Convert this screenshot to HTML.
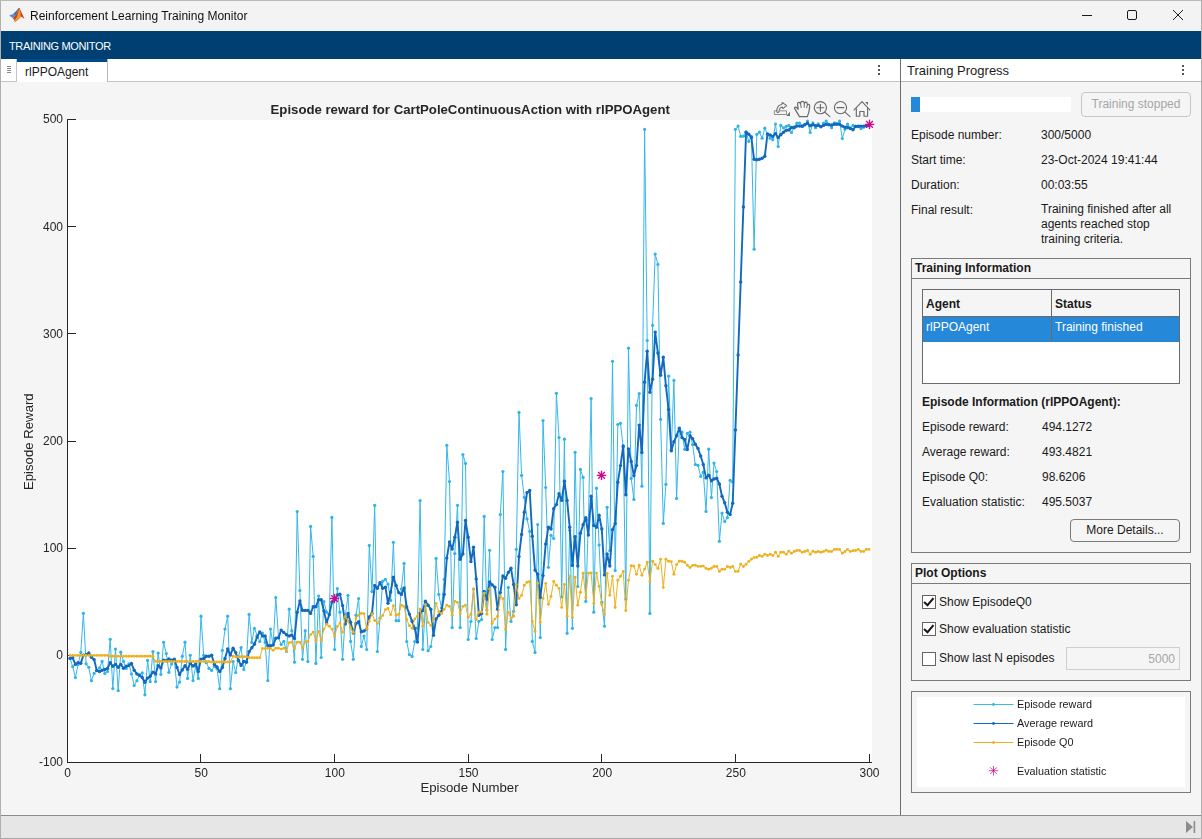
<!DOCTYPE html>
<html><head><meta charset="utf-8"><title>Reinforcement Learning Training Monitor</title>
<style>
*{box-sizing:border-box;margin:0;padding:0}
html,body{width:1202px;height:839px;overflow:hidden;background:#f5f5f5}
body{position:relative;font-family:"Liberation Sans",sans-serif;font-size:12px;color:#1a1a1a}
.abs{position:absolute}
.t{position:absolute;white-space:nowrap;line-height:14px}
.b{font-weight:bold}
.panel{position:absolute;left:911px;width:280px;border:1px solid #7a7a7a}
.ptitle{position:absolute;left:0;top:0;right:0;border-bottom:1px solid #7a7a7a;height:20px}
.cb{position:absolute;left:922px;width:14px;height:14px;border:1px solid #646464;background:#fff}
</style></head><body>
<!-- window frame -->
<div class="abs" style="left:0;top:0;width:1202px;height:1px;background:#b9b9b9"></div>
<div class="abs" style="left:0;top:1px;width:1202px;height:30px;background:#f3f3f3"></div>
<div class="abs" style="left:0;top:31px;width:1202px;height:28px;background:#003f72"></div>
<div class="abs" style="left:0;top:59px;width:1202px;height:23px;background:#fff"></div>
<!-- title bar -->
<svg class="abs" style="left:8px;top:6px" width="18" height="18" viewBox="0 0 18 18">
<polygon points="1.2,9.6 5.2,8.0 7.2,9.4 5.0,12.2" fill="#4a90d9"/>
<polygon points="5.2,8.0 8.6,4.4 10.6,2.0 9.2,6.6 7.2,9.4" fill="#3a6fb5"/>
<polygon points="5.0,12.2 7.2,9.4 9.2,6.6 10.6,2.0 11.6,2.0 13.0,5.6 16.6,13.0 14.6,11.4 13.0,10.6 10.4,13.2 7.2,16.0 6.2,14.2" fill="#c43d1a"/>
<polygon points="7.2,16.0 6.2,14.2 8.6,11.4 10.6,5.0 11.6,2.2 12.4,6.4 12.8,10.6 10.4,13.2" fill="#f0962e"/>
</svg>
<div class="t" style="left:30px;top:8px;font-size:12px;color:#111;line-height:16px;will-change:transform" id="wtitle">Reinforcement Learning Training Monitor</div>
<svg class="abs" style="left:1076px;top:5px" width="116" height="22" viewBox="1076 5 116 22" fill="none" stroke="#1a1a1a" stroke-width="1">
<line x1="1082" y1="15.5" x2="1092" y2="15.5"/>
<rect x="1127.5" y="10.5" width="9" height="9" rx="1.5"/>
<path d="M1173 10 L1183 20 M1183 10 L1173 20"/>
</svg>
<!-- toolstrip -->
<div class="t" style="left:9px;top:38.8px;font-size:11px;letter-spacing:-0.35px;color:#ffffff;line-height:15px" id="tstrip">TRAINING MONITOR</div>
<!-- tab strip -->
<div class="abs" style="left:1px;top:59px;width:16px;height:23px;background:#fff;border-right:1px solid #c4c4c4;border-bottom:1px solid #c4c4c4"></div>
<div class="abs" style="left:7px;top:66px;width:4px;height:1px;background:#8a8a8a;box-shadow:0 2px 0 #8a8a8a,0 4px 0 #8a8a8a,0 6px 0 #8a8a8a"></div>
<div class="abs" style="left:17px;top:59px;width:90px;height:3px;background:#00498a"></div>
<div class="t" style="left:25px;top:64.5px;font-size:12px;color:#1a1a1a;line-height:15px" id="tabtxt">rlPPOAgent</div>
<div class="abs" style="left:107px;top:59px;width:793px;height:23px;border-left:1px solid #b9b9b9;border-bottom:1px solid #c4c4c4"></div>
<div class="abs" style="left:878px;top:65px;width:2px;height:2px;background:#555;box-shadow:0 4px 0 #555,0 8px 0 #555"></div>
<div class="abs" style="left:901px;top:59px;width:301px;height:23px;border-bottom:1px solid #b9b9b9"></div>
<div class="t" style="left:907px;top:63px;font-size:13px;color:#1a1a1a;line-height:16px" id="tprog">Training Progress</div>
<div class="abs" style="left:1182px;top:65px;width:2px;height:2px;background:#555;box-shadow:0 4px 0 #555,0 8px 0 #555"></div>
<!-- divider -->
<div class="abs" style="left:900px;top:59px;width:1px;height:756px;background:#6e6e6e"></div>
<svg id="chart" width="901" height="757" viewBox="0 82 901 757" style="position:absolute;left:0;top:82px;will-change:transform"><rect x="68" y="120" width="804" height="642" fill="#fff"/><g stroke="#262626" stroke-width="1" fill="none" shape-rendering="crispEdges"><line x1="67.5" y1="119" x2="67.5" y2="762.5"/><line x1="67" y1="762.5" x2="872" y2="762.5"/><line x1="67" y1="119.5" x2="76" y2="119.5"/><line x1="67" y1="226.5" x2="76" y2="226.5"/><line x1="67" y1="333.5" x2="76" y2="333.5"/><line x1="67" y1="441.5" x2="76" y2="441.5"/><line x1="67" y1="548.5" x2="76" y2="548.5"/><line x1="67" y1="655.5" x2="76" y2="655.5"/><line x1="67" y1="762.5" x2="76" y2="762.5"/><line x1="200.5" y1="762" x2="200.5" y2="754"/><line x1="334.5" y1="762" x2="334.5" y2="754"/><line x1="468.5" y1="762" x2="468.5" y2="754"/><line x1="601.5" y1="762" x2="601.5" y2="754"/><line x1="735.5" y1="762" x2="735.5" y2="754"/><line x1="869.5" y1="762" x2="869.5" y2="754"/></g><polyline fill="none" stroke="#35b7ea" stroke-width="1.0" stroke-linejoin="round" points="70.1,658.4 72.7,666.7 75.4,677.5 78.1,664.4 80.8,652.4 83.4,613.3 86.1,663.8 88.8,667.3 91.4,680.7 94.1,673.3 96.8,670.3 99.5,667.9 102.1,661.4 104.8,673.5 107.5,671.5 110.2,639.3 112.8,688.6 115.5,649.1 118.2,690.6 120.8,652.2 123.5,661.4 126.2,668.5 128.9,663.8 131.5,673.9 134.2,685.5 136.9,680.7 139.5,675.1 142.2,672.9 144.9,694.8 147.6,660.4 150.2,681.6 152.9,651.5 155.6,681.6 158.2,653.0 160.9,674.5 163.6,642.3 166.3,653.6 168.9,672.3 171.6,663.9 174.3,660.3 177.0,687.1 179.6,682.1 182.3,656.2 185.0,642.2 187.6,678.4 190.3,655.3 193.0,680.6 195.7,666.3 198.3,678.4 201.0,616.2 203.7,655.3 206.3,662.7 209.0,668.3 211.7,670.5 214.4,666.3 217.0,668.7 219.7,688.7 222.4,650.4 225.0,629.1 227.7,616.2 230.4,688.7 233.1,661.5 235.7,672.5 238.4,656.7 241.1,647.6 243.8,669.5 246.4,661.5 249.1,614.4 251.8,642.4 254.4,628.4 257.1,635.3 259.8,641.5 262.5,633.1 265.1,642.4 267.8,680.6 270.5,629.1 273.1,644.8 275.8,597.5 278.5,637.7 281.2,644.4 283.8,641.4 286.5,651.5 289.2,609.2 291.8,630.7 294.5,662.2 297.2,511.5 299.9,590.5 302.5,659.3 305.2,630.7 307.9,661.6 310.6,526.4 313.2,556.4 315.9,663.4 318.6,596.1 321.2,657.5 323.9,601.5 326.6,612.2 329.3,614.6 331.9,517.4 334.6,649.5 337.3,588.6 339.9,612.2 342.6,659.3 345.3,615.8 348.0,595.3 350.6,641.4 353.3,659.3 356.0,615.2 358.6,598.5 361.3,646.4 364.0,636.0 366.7,649.5 369.3,545.4 372.0,591.6 374.7,505.3 377.4,651.5 380.0,618.1 382.7,581.2 385.4,579.4 388.0,584.2 390.7,600.4 393.4,542.3 396.1,620.7 398.7,620.7 401.4,589.1 404.1,563.4 406.7,641.5 409.4,654.6 412.1,656.4 414.8,641.5 417.4,628.0 420.1,500.5 422.8,649.5 425.4,605.8 428.1,650.7 430.8,646.5 433.5,629.6 436.1,558.4 438.8,594.4 441.5,608.0 444.2,579.3 446.8,445.3 449.5,481.5 452.2,627.6 454.8,553.5 457.5,505.3 460.2,627.6 462.9,454.5 465.5,463.4 468.2,639.5 470.9,621.5 473.5,589.0 476.2,638.5 478.9,621.3 481.6,619.5 484.2,516.4 486.9,610.0 489.6,550.3 492.2,639.5 494.9,627.6 497.6,627.6 500.3,514.6 502.9,471.5 505.6,649.4 508.3,587.4 511.0,621.4 513.6,611.3 516.3,549.3 519.0,412.4 521.6,475.4 524.3,497.4 527.0,518.9 529.7,531.4 532.3,641.4 535.0,652.4 537.7,524.5 540.3,637.5 543.0,420.5 545.7,487.5 548.4,567.3 551.0,535.3 553.7,538.5 556.4,393.3 559.0,437.6 561.7,597.0 564.4,439.2 567.1,633.3 569.7,530.3 572.4,628.3 575.1,452.3 577.8,586.5 580.4,469.4 583.1,477.4 585.8,601.4 588.4,520.0 591.1,398.5 593.8,612.2 596.5,488.2 599.1,545.1 601.8,602.3 604.5,626.2 607.1,507.3 609.8,550.7 612.5,361.3 615.2,570.5 617.8,424.5 620.5,423.3 623.2,447.0 625.8,599.1 628.5,348.2 631.2,478.4 633.9,499.4 636.5,405.4 639.2,393.5 641.9,486.2 644.6,129.3 647.2,340.5 649.9,613.4 652.6,325.3 655.2,254.1 657.9,264.4 660.6,419.4 663.3,523.4 665.9,484.3 668.6,376.2 671.3,450.0 673.9,380.4 676.6,498.4 679.3,428.5 682.0,432.2 684.6,449.3 687.3,433.4 690.0,432.2 692.6,444.5 695.3,464.5 698.0,465.3 700.7,476.4 703.3,472.2 706.0,511.5 708.7,449.2 711.4,497.6 714.0,463.1 716.7,471.5 719.4,541.3 722.0,513.1 724.7,521.5 727.4,517.6 730.1,480.3 732.7,482.0 735.4,129.3 738.1,126.1 740.7,136.4 743.4,136.2 746.1,132.2 748.8,141.4 751.4,136.4 754.1,249.2 756.8,134.3 759.4,132.2 762.1,138.2 764.8,128.2 767.5,134.3 770.1,138.2 772.8,139.7 775.5,124.1 778.2,146.5 780.8,125.4 783.5,127.9 786.2,126.4 788.8,125.4 791.5,132.5 794.2,126.8 796.9,123.2 799.5,123.2 802.2,125.7 804.9,124.3 807.5,121.1 810.2,132.5 812.9,122.9 815.6,127.7 818.2,123.9 820.9,126.4 823.6,123.2 826.2,121.1 828.9,124.3 831.6,127.7 834.3,122.9 836.9,123.6 839.6,121.1 842.3,138.5 845.0,129.3 847.6,124.2 850.3,127.9 853.0,125.4 855.6,126.4 858.3,126.4 861.0,128.6 863.7,127.2 866.3,125.7 869.0,125.0"/><circle cx="70.1" cy="658.4" r="1.6" fill="#2fb4e9"/><circle cx="72.7" cy="666.7" r="1.6" fill="#2fb4e9"/><circle cx="75.4" cy="677.5" r="1.6" fill="#2fb4e9"/><circle cx="78.1" cy="664.4" r="1.6" fill="#2fb4e9"/><circle cx="80.8" cy="652.4" r="1.6" fill="#2fb4e9"/><circle cx="83.4" cy="613.3" r="1.6" fill="#2fb4e9"/><circle cx="86.1" cy="663.8" r="1.6" fill="#2fb4e9"/><circle cx="88.8" cy="667.3" r="1.6" fill="#2fb4e9"/><circle cx="91.4" cy="680.7" r="1.6" fill="#2fb4e9"/><circle cx="94.1" cy="673.3" r="1.6" fill="#2fb4e9"/><circle cx="96.8" cy="670.3" r="1.6" fill="#2fb4e9"/><circle cx="99.5" cy="667.9" r="1.6" fill="#2fb4e9"/><circle cx="102.1" cy="661.4" r="1.6" fill="#2fb4e9"/><circle cx="104.8" cy="673.5" r="1.6" fill="#2fb4e9"/><circle cx="107.5" cy="671.5" r="1.6" fill="#2fb4e9"/><circle cx="110.2" cy="639.3" r="1.6" fill="#2fb4e9"/><circle cx="112.8" cy="688.6" r="1.6" fill="#2fb4e9"/><circle cx="115.5" cy="649.1" r="1.6" fill="#2fb4e9"/><circle cx="118.2" cy="690.6" r="1.6" fill="#2fb4e9"/><circle cx="120.8" cy="652.2" r="1.6" fill="#2fb4e9"/><circle cx="123.5" cy="661.4" r="1.6" fill="#2fb4e9"/><circle cx="126.2" cy="668.5" r="1.6" fill="#2fb4e9"/><circle cx="128.9" cy="663.8" r="1.6" fill="#2fb4e9"/><circle cx="131.5" cy="673.9" r="1.6" fill="#2fb4e9"/><circle cx="134.2" cy="685.5" r="1.6" fill="#2fb4e9"/><circle cx="136.9" cy="680.7" r="1.6" fill="#2fb4e9"/><circle cx="139.5" cy="675.1" r="1.6" fill="#2fb4e9"/><circle cx="142.2" cy="672.9" r="1.6" fill="#2fb4e9"/><circle cx="144.9" cy="694.8" r="1.6" fill="#2fb4e9"/><circle cx="147.6" cy="660.4" r="1.6" fill="#2fb4e9"/><circle cx="150.2" cy="681.6" r="1.6" fill="#2fb4e9"/><circle cx="152.9" cy="651.5" r="1.6" fill="#2fb4e9"/><circle cx="155.6" cy="681.6" r="1.6" fill="#2fb4e9"/><circle cx="158.2" cy="653.0" r="1.6" fill="#2fb4e9"/><circle cx="160.9" cy="674.5" r="1.6" fill="#2fb4e9"/><circle cx="163.6" cy="642.3" r="1.6" fill="#2fb4e9"/><circle cx="166.3" cy="653.6" r="1.6" fill="#2fb4e9"/><circle cx="168.9" cy="672.3" r="1.6" fill="#2fb4e9"/><circle cx="171.6" cy="663.9" r="1.6" fill="#2fb4e9"/><circle cx="174.3" cy="660.3" r="1.6" fill="#2fb4e9"/><circle cx="177.0" cy="687.1" r="1.6" fill="#2fb4e9"/><circle cx="179.6" cy="682.1" r="1.6" fill="#2fb4e9"/><circle cx="182.3" cy="656.2" r="1.6" fill="#2fb4e9"/><circle cx="185.0" cy="642.2" r="1.6" fill="#2fb4e9"/><circle cx="187.6" cy="678.4" r="1.6" fill="#2fb4e9"/><circle cx="190.3" cy="655.3" r="1.6" fill="#2fb4e9"/><circle cx="193.0" cy="680.6" r="1.6" fill="#2fb4e9"/><circle cx="195.7" cy="666.3" r="1.6" fill="#2fb4e9"/><circle cx="198.3" cy="678.4" r="1.6" fill="#2fb4e9"/><circle cx="201.0" cy="616.2" r="1.6" fill="#2fb4e9"/><circle cx="203.7" cy="655.3" r="1.6" fill="#2fb4e9"/><circle cx="206.3" cy="662.7" r="1.6" fill="#2fb4e9"/><circle cx="209.0" cy="668.3" r="1.6" fill="#2fb4e9"/><circle cx="211.7" cy="670.5" r="1.6" fill="#2fb4e9"/><circle cx="214.4" cy="666.3" r="1.6" fill="#2fb4e9"/><circle cx="217.0" cy="668.7" r="1.6" fill="#2fb4e9"/><circle cx="219.7" cy="688.7" r="1.6" fill="#2fb4e9"/><circle cx="222.4" cy="650.4" r="1.6" fill="#2fb4e9"/><circle cx="225.0" cy="629.1" r="1.6" fill="#2fb4e9"/><circle cx="227.7" cy="616.2" r="1.6" fill="#2fb4e9"/><circle cx="230.4" cy="688.7" r="1.6" fill="#2fb4e9"/><circle cx="233.1" cy="661.5" r="1.6" fill="#2fb4e9"/><circle cx="235.7" cy="672.5" r="1.6" fill="#2fb4e9"/><circle cx="238.4" cy="656.7" r="1.6" fill="#2fb4e9"/><circle cx="241.1" cy="647.6" r="1.6" fill="#2fb4e9"/><circle cx="243.8" cy="669.5" r="1.6" fill="#2fb4e9"/><circle cx="246.4" cy="661.5" r="1.6" fill="#2fb4e9"/><circle cx="249.1" cy="614.4" r="1.6" fill="#2fb4e9"/><circle cx="251.8" cy="642.4" r="1.6" fill="#2fb4e9"/><circle cx="254.4" cy="628.4" r="1.6" fill="#2fb4e9"/><circle cx="257.1" cy="635.3" r="1.6" fill="#2fb4e9"/><circle cx="259.8" cy="641.5" r="1.6" fill="#2fb4e9"/><circle cx="262.5" cy="633.1" r="1.6" fill="#2fb4e9"/><circle cx="265.1" cy="642.4" r="1.6" fill="#2fb4e9"/><circle cx="267.8" cy="680.6" r="1.6" fill="#2fb4e9"/><circle cx="270.5" cy="629.1" r="1.6" fill="#2fb4e9"/><circle cx="273.1" cy="644.8" r="1.6" fill="#2fb4e9"/><circle cx="275.8" cy="597.5" r="1.6" fill="#2fb4e9"/><circle cx="278.5" cy="637.7" r="1.6" fill="#2fb4e9"/><circle cx="281.2" cy="644.4" r="1.6" fill="#2fb4e9"/><circle cx="283.8" cy="641.4" r="1.6" fill="#2fb4e9"/><circle cx="286.5" cy="651.5" r="1.6" fill="#2fb4e9"/><circle cx="289.2" cy="609.2" r="1.6" fill="#2fb4e9"/><circle cx="291.8" cy="630.7" r="1.6" fill="#2fb4e9"/><circle cx="294.5" cy="662.2" r="1.6" fill="#2fb4e9"/><circle cx="297.2" cy="511.5" r="1.6" fill="#2fb4e9"/><circle cx="299.9" cy="590.5" r="1.6" fill="#2fb4e9"/><circle cx="302.5" cy="659.3" r="1.6" fill="#2fb4e9"/><circle cx="305.2" cy="630.7" r="1.6" fill="#2fb4e9"/><circle cx="307.9" cy="661.6" r="1.6" fill="#2fb4e9"/><circle cx="310.6" cy="526.4" r="1.6" fill="#2fb4e9"/><circle cx="313.2" cy="556.4" r="1.6" fill="#2fb4e9"/><circle cx="315.9" cy="663.4" r="1.6" fill="#2fb4e9"/><circle cx="318.6" cy="596.1" r="1.6" fill="#2fb4e9"/><circle cx="321.2" cy="657.5" r="1.6" fill="#2fb4e9"/><circle cx="323.9" cy="601.5" r="1.6" fill="#2fb4e9"/><circle cx="326.6" cy="612.2" r="1.6" fill="#2fb4e9"/><circle cx="329.3" cy="614.6" r="1.6" fill="#2fb4e9"/><circle cx="331.9" cy="517.4" r="1.6" fill="#2fb4e9"/><circle cx="334.6" cy="649.5" r="1.6" fill="#2fb4e9"/><circle cx="337.3" cy="588.6" r="1.6" fill="#2fb4e9"/><circle cx="339.9" cy="612.2" r="1.6" fill="#2fb4e9"/><circle cx="342.6" cy="659.3" r="1.6" fill="#2fb4e9"/><circle cx="345.3" cy="615.8" r="1.6" fill="#2fb4e9"/><circle cx="348.0" cy="595.3" r="1.6" fill="#2fb4e9"/><circle cx="350.6" cy="641.4" r="1.6" fill="#2fb4e9"/><circle cx="353.3" cy="659.3" r="1.6" fill="#2fb4e9"/><circle cx="356.0" cy="615.2" r="1.6" fill="#2fb4e9"/><circle cx="358.6" cy="598.5" r="1.6" fill="#2fb4e9"/><circle cx="361.3" cy="646.4" r="1.6" fill="#2fb4e9"/><circle cx="364.0" cy="636.0" r="1.6" fill="#2fb4e9"/><circle cx="366.7" cy="649.5" r="1.6" fill="#2fb4e9"/><circle cx="369.3" cy="545.4" r="1.6" fill="#2fb4e9"/><circle cx="372.0" cy="591.6" r="1.6" fill="#2fb4e9"/><circle cx="374.7" cy="505.3" r="1.6" fill="#2fb4e9"/><circle cx="377.4" cy="651.5" r="1.6" fill="#2fb4e9"/><circle cx="380.0" cy="618.1" r="1.6" fill="#2fb4e9"/><circle cx="382.7" cy="581.2" r="1.6" fill="#2fb4e9"/><circle cx="385.4" cy="579.4" r="1.6" fill="#2fb4e9"/><circle cx="388.0" cy="584.2" r="1.6" fill="#2fb4e9"/><circle cx="390.7" cy="600.4" r="1.6" fill="#2fb4e9"/><circle cx="393.4" cy="542.3" r="1.6" fill="#2fb4e9"/><circle cx="396.1" cy="620.7" r="1.6" fill="#2fb4e9"/><circle cx="398.7" cy="620.7" r="1.6" fill="#2fb4e9"/><circle cx="401.4" cy="589.1" r="1.6" fill="#2fb4e9"/><circle cx="404.1" cy="563.4" r="1.6" fill="#2fb4e9"/><circle cx="406.7" cy="641.5" r="1.6" fill="#2fb4e9"/><circle cx="409.4" cy="654.6" r="1.6" fill="#2fb4e9"/><circle cx="412.1" cy="656.4" r="1.6" fill="#2fb4e9"/><circle cx="414.8" cy="641.5" r="1.6" fill="#2fb4e9"/><circle cx="417.4" cy="628.0" r="1.6" fill="#2fb4e9"/><circle cx="420.1" cy="500.5" r="1.6" fill="#2fb4e9"/><circle cx="422.8" cy="649.5" r="1.6" fill="#2fb4e9"/><circle cx="425.4" cy="605.8" r="1.6" fill="#2fb4e9"/><circle cx="428.1" cy="650.7" r="1.6" fill="#2fb4e9"/><circle cx="430.8" cy="646.5" r="1.6" fill="#2fb4e9"/><circle cx="433.5" cy="629.6" r="1.6" fill="#2fb4e9"/><circle cx="436.1" cy="558.4" r="1.6" fill="#2fb4e9"/><circle cx="438.8" cy="594.4" r="1.6" fill="#2fb4e9"/><circle cx="441.5" cy="608.0" r="1.6" fill="#2fb4e9"/><circle cx="444.2" cy="579.3" r="1.6" fill="#2fb4e9"/><circle cx="446.8" cy="445.3" r="1.6" fill="#2fb4e9"/><circle cx="449.5" cy="481.5" r="1.6" fill="#2fb4e9"/><circle cx="452.2" cy="627.6" r="1.6" fill="#2fb4e9"/><circle cx="454.8" cy="553.5" r="1.6" fill="#2fb4e9"/><circle cx="457.5" cy="505.3" r="1.6" fill="#2fb4e9"/><circle cx="460.2" cy="627.6" r="1.6" fill="#2fb4e9"/><circle cx="462.9" cy="454.5" r="1.6" fill="#2fb4e9"/><circle cx="465.5" cy="463.4" r="1.6" fill="#2fb4e9"/><circle cx="468.2" cy="639.5" r="1.6" fill="#2fb4e9"/><circle cx="470.9" cy="621.5" r="1.6" fill="#2fb4e9"/><circle cx="473.5" cy="589.0" r="1.6" fill="#2fb4e9"/><circle cx="476.2" cy="638.5" r="1.6" fill="#2fb4e9"/><circle cx="478.9" cy="621.3" r="1.6" fill="#2fb4e9"/><circle cx="481.6" cy="619.5" r="1.6" fill="#2fb4e9"/><circle cx="484.2" cy="516.4" r="1.6" fill="#2fb4e9"/><circle cx="486.9" cy="610.0" r="1.6" fill="#2fb4e9"/><circle cx="489.6" cy="550.3" r="1.6" fill="#2fb4e9"/><circle cx="492.2" cy="639.5" r="1.6" fill="#2fb4e9"/><circle cx="494.9" cy="627.6" r="1.6" fill="#2fb4e9"/><circle cx="497.6" cy="627.6" r="1.6" fill="#2fb4e9"/><circle cx="500.3" cy="514.6" r="1.6" fill="#2fb4e9"/><circle cx="502.9" cy="471.5" r="1.6" fill="#2fb4e9"/><circle cx="505.6" cy="649.4" r="1.6" fill="#2fb4e9"/><circle cx="508.3" cy="587.4" r="1.6" fill="#2fb4e9"/><circle cx="511.0" cy="621.4" r="1.6" fill="#2fb4e9"/><circle cx="513.6" cy="611.3" r="1.6" fill="#2fb4e9"/><circle cx="516.3" cy="549.3" r="1.6" fill="#2fb4e9"/><circle cx="519.0" cy="412.4" r="1.6" fill="#2fb4e9"/><circle cx="521.6" cy="475.4" r="1.6" fill="#2fb4e9"/><circle cx="524.3" cy="497.4" r="1.6" fill="#2fb4e9"/><circle cx="527.0" cy="518.9" r="1.6" fill="#2fb4e9"/><circle cx="529.7" cy="531.4" r="1.6" fill="#2fb4e9"/><circle cx="532.3" cy="641.4" r="1.6" fill="#2fb4e9"/><circle cx="535.0" cy="652.4" r="1.6" fill="#2fb4e9"/><circle cx="537.7" cy="524.5" r="1.6" fill="#2fb4e9"/><circle cx="540.3" cy="637.5" r="1.6" fill="#2fb4e9"/><circle cx="543.0" cy="420.5" r="1.6" fill="#2fb4e9"/><circle cx="545.7" cy="487.5" r="1.6" fill="#2fb4e9"/><circle cx="548.4" cy="567.3" r="1.6" fill="#2fb4e9"/><circle cx="551.0" cy="535.3" r="1.6" fill="#2fb4e9"/><circle cx="553.7" cy="538.5" r="1.6" fill="#2fb4e9"/><circle cx="556.4" cy="393.3" r="1.6" fill="#2fb4e9"/><circle cx="559.0" cy="437.6" r="1.6" fill="#2fb4e9"/><circle cx="561.7" cy="597.0" r="1.6" fill="#2fb4e9"/><circle cx="564.4" cy="439.2" r="1.6" fill="#2fb4e9"/><circle cx="567.1" cy="633.3" r="1.6" fill="#2fb4e9"/><circle cx="569.7" cy="530.3" r="1.6" fill="#2fb4e9"/><circle cx="572.4" cy="628.3" r="1.6" fill="#2fb4e9"/><circle cx="575.1" cy="452.3" r="1.6" fill="#2fb4e9"/><circle cx="577.8" cy="586.5" r="1.6" fill="#2fb4e9"/><circle cx="580.4" cy="469.4" r="1.6" fill="#2fb4e9"/><circle cx="583.1" cy="477.4" r="1.6" fill="#2fb4e9"/><circle cx="585.8" cy="601.4" r="1.6" fill="#2fb4e9"/><circle cx="588.4" cy="520.0" r="1.6" fill="#2fb4e9"/><circle cx="591.1" cy="398.5" r="1.6" fill="#2fb4e9"/><circle cx="593.8" cy="612.2" r="1.6" fill="#2fb4e9"/><circle cx="596.5" cy="488.2" r="1.6" fill="#2fb4e9"/><circle cx="599.1" cy="545.1" r="1.6" fill="#2fb4e9"/><circle cx="601.8" cy="602.3" r="1.6" fill="#2fb4e9"/><circle cx="604.5" cy="626.2" r="1.6" fill="#2fb4e9"/><circle cx="607.1" cy="507.3" r="1.6" fill="#2fb4e9"/><circle cx="609.8" cy="550.7" r="1.6" fill="#2fb4e9"/><circle cx="612.5" cy="361.3" r="1.6" fill="#2fb4e9"/><circle cx="615.2" cy="570.5" r="1.6" fill="#2fb4e9"/><circle cx="617.8" cy="424.5" r="1.6" fill="#2fb4e9"/><circle cx="620.5" cy="423.3" r="1.6" fill="#2fb4e9"/><circle cx="623.2" cy="447.0" r="1.6" fill="#2fb4e9"/><circle cx="625.8" cy="599.1" r="1.6" fill="#2fb4e9"/><circle cx="628.5" cy="348.2" r="1.6" fill="#2fb4e9"/><circle cx="631.2" cy="478.4" r="1.6" fill="#2fb4e9"/><circle cx="633.9" cy="499.4" r="1.6" fill="#2fb4e9"/><circle cx="636.5" cy="405.4" r="1.6" fill="#2fb4e9"/><circle cx="639.2" cy="393.5" r="1.6" fill="#2fb4e9"/><circle cx="641.9" cy="486.2" r="1.6" fill="#2fb4e9"/><circle cx="644.6" cy="129.3" r="1.6" fill="#2fb4e9"/><circle cx="647.2" cy="340.5" r="1.6" fill="#2fb4e9"/><circle cx="649.9" cy="613.4" r="1.6" fill="#2fb4e9"/><circle cx="652.6" cy="325.3" r="1.6" fill="#2fb4e9"/><circle cx="655.2" cy="254.1" r="1.6" fill="#2fb4e9"/><circle cx="657.9" cy="264.4" r="1.6" fill="#2fb4e9"/><circle cx="660.6" cy="419.4" r="1.6" fill="#2fb4e9"/><circle cx="663.3" cy="523.4" r="1.6" fill="#2fb4e9"/><circle cx="665.9" cy="484.3" r="1.6" fill="#2fb4e9"/><circle cx="668.6" cy="376.2" r="1.6" fill="#2fb4e9"/><circle cx="671.3" cy="450.0" r="1.6" fill="#2fb4e9"/><circle cx="673.9" cy="380.4" r="1.6" fill="#2fb4e9"/><circle cx="676.6" cy="498.4" r="1.6" fill="#2fb4e9"/><circle cx="679.3" cy="428.5" r="1.6" fill="#2fb4e9"/><circle cx="682.0" cy="432.2" r="1.6" fill="#2fb4e9"/><circle cx="684.6" cy="449.3" r="1.6" fill="#2fb4e9"/><circle cx="687.3" cy="433.4" r="1.6" fill="#2fb4e9"/><circle cx="690.0" cy="432.2" r="1.6" fill="#2fb4e9"/><circle cx="692.6" cy="444.5" r="1.6" fill="#2fb4e9"/><circle cx="695.3" cy="464.5" r="1.6" fill="#2fb4e9"/><circle cx="698.0" cy="465.3" r="1.6" fill="#2fb4e9"/><circle cx="700.7" cy="476.4" r="1.6" fill="#2fb4e9"/><circle cx="703.3" cy="472.2" r="1.6" fill="#2fb4e9"/><circle cx="706.0" cy="511.5" r="1.6" fill="#2fb4e9"/><circle cx="708.7" cy="449.2" r="1.6" fill="#2fb4e9"/><circle cx="711.4" cy="497.6" r="1.6" fill="#2fb4e9"/><circle cx="714.0" cy="463.1" r="1.6" fill="#2fb4e9"/><circle cx="716.7" cy="471.5" r="1.6" fill="#2fb4e9"/><circle cx="719.4" cy="541.3" r="1.6" fill="#2fb4e9"/><circle cx="722.0" cy="513.1" r="1.6" fill="#2fb4e9"/><circle cx="724.7" cy="521.5" r="1.6" fill="#2fb4e9"/><circle cx="727.4" cy="517.6" r="1.6" fill="#2fb4e9"/><circle cx="730.1" cy="480.3" r="1.6" fill="#2fb4e9"/><circle cx="732.7" cy="482.0" r="1.6" fill="#2fb4e9"/><circle cx="735.4" cy="129.3" r="1.6" fill="#2fb4e9"/><circle cx="738.1" cy="126.1" r="1.6" fill="#2fb4e9"/><circle cx="740.7" cy="136.4" r="1.6" fill="#2fb4e9"/><circle cx="743.4" cy="136.2" r="1.6" fill="#2fb4e9"/><circle cx="746.1" cy="132.2" r="1.6" fill="#2fb4e9"/><circle cx="748.8" cy="141.4" r="1.6" fill="#2fb4e9"/><circle cx="751.4" cy="136.4" r="1.6" fill="#2fb4e9"/><circle cx="754.1" cy="249.2" r="1.6" fill="#2fb4e9"/><circle cx="756.8" cy="134.3" r="1.6" fill="#2fb4e9"/><circle cx="759.4" cy="132.2" r="1.6" fill="#2fb4e9"/><circle cx="762.1" cy="138.2" r="1.6" fill="#2fb4e9"/><circle cx="764.8" cy="128.2" r="1.6" fill="#2fb4e9"/><circle cx="767.5" cy="134.3" r="1.6" fill="#2fb4e9"/><circle cx="770.1" cy="138.2" r="1.6" fill="#2fb4e9"/><circle cx="772.8" cy="139.7" r="1.6" fill="#2fb4e9"/><circle cx="775.5" cy="124.1" r="1.6" fill="#2fb4e9"/><circle cx="778.2" cy="146.5" r="1.6" fill="#2fb4e9"/><circle cx="780.8" cy="125.4" r="1.6" fill="#2fb4e9"/><circle cx="783.5" cy="127.9" r="1.6" fill="#2fb4e9"/><circle cx="786.2" cy="126.4" r="1.6" fill="#2fb4e9"/><circle cx="788.8" cy="125.4" r="1.6" fill="#2fb4e9"/><circle cx="791.5" cy="132.5" r="1.6" fill="#2fb4e9"/><circle cx="794.2" cy="126.8" r="1.6" fill="#2fb4e9"/><circle cx="796.9" cy="123.2" r="1.6" fill="#2fb4e9"/><circle cx="799.5" cy="123.2" r="1.6" fill="#2fb4e9"/><circle cx="802.2" cy="125.7" r="1.6" fill="#2fb4e9"/><circle cx="804.9" cy="124.3" r="1.6" fill="#2fb4e9"/><circle cx="807.5" cy="121.1" r="1.6" fill="#2fb4e9"/><circle cx="810.2" cy="132.5" r="1.6" fill="#2fb4e9"/><circle cx="812.9" cy="122.9" r="1.6" fill="#2fb4e9"/><circle cx="815.6" cy="127.7" r="1.6" fill="#2fb4e9"/><circle cx="818.2" cy="123.9" r="1.6" fill="#2fb4e9"/><circle cx="820.9" cy="126.4" r="1.6" fill="#2fb4e9"/><circle cx="823.6" cy="123.2" r="1.6" fill="#2fb4e9"/><circle cx="826.2" cy="121.1" r="1.6" fill="#2fb4e9"/><circle cx="828.9" cy="124.3" r="1.6" fill="#2fb4e9"/><circle cx="831.6" cy="127.7" r="1.6" fill="#2fb4e9"/><circle cx="834.3" cy="122.9" r="1.6" fill="#2fb4e9"/><circle cx="836.9" cy="123.6" r="1.6" fill="#2fb4e9"/><circle cx="839.6" cy="121.1" r="1.6" fill="#2fb4e9"/><circle cx="842.3" cy="138.5" r="1.6" fill="#2fb4e9"/><circle cx="845.0" cy="129.3" r="1.6" fill="#2fb4e9"/><circle cx="847.6" cy="124.2" r="1.6" fill="#2fb4e9"/><circle cx="850.3" cy="127.9" r="1.6" fill="#2fb4e9"/><circle cx="853.0" cy="125.4" r="1.6" fill="#2fb4e9"/><circle cx="855.6" cy="126.4" r="1.6" fill="#2fb4e9"/><circle cx="858.3" cy="126.4" r="1.6" fill="#2fb4e9"/><circle cx="861.0" cy="128.6" r="1.6" fill="#2fb4e9"/><circle cx="863.7" cy="127.2" r="1.6" fill="#2fb4e9"/><circle cx="866.3" cy="125.7" r="1.6" fill="#2fb4e9"/><circle cx="869.0" cy="125.0" r="1.6" fill="#2fb4e9"/><polyline fill="none" stroke="#1269bd" stroke-width="1.9" stroke-linejoin="round" points="70.1,658.4 72.7,657.8 75.4,664.4 78.1,662.6 80.8,663.2 83.4,655.1 86.1,654.8 88.8,653.0 91.4,657.2 94.1,659.6 96.8,670.6 99.5,671.5 102.1,670.3 104.8,669.5 107.5,668.5 110.2,662.6 112.8,666.2 115.5,664.4 118.2,667.3 120.8,664.4 123.5,668.2 126.2,666.2 128.9,665.6 131.5,663.5 134.2,670.3 136.9,673.9 139.5,675.3 142.2,677.5 144.9,682.2 147.6,678.1 150.2,676.3 152.9,672.1 155.6,673.9 158.2,665.6 160.9,667.9 163.6,660.2 166.3,660.8 168.9,659.0 171.6,660.3 174.3,659.1 177.0,667.5 179.6,674.6 182.3,669.9 185.0,665.7 187.6,669.3 190.3,663.3 193.0,666.0 195.7,663.9 198.3,671.6 201.0,659.1 203.7,658.5 206.3,656.2 209.0,656.2 211.7,655.3 214.4,664.5 217.0,666.9 219.7,671.6 222.4,667.5 225.0,658.5 227.7,649.0 230.4,655.0 233.1,648.2 235.7,652.6 238.4,660.3 241.1,665.4 243.8,661.5 246.4,662.3 249.1,651.7 251.8,647.8 254.4,644.2 257.1,637.1 259.8,632.0 262.5,635.9 265.1,635.9 267.8,645.8 270.5,645.8 273.1,645.1 275.8,638.3 278.5,637.7 281.2,630.1 283.8,632.4 286.5,634.8 289.2,636.0 291.8,635.1 294.5,638.4 297.2,612.2 299.9,600.9 302.5,610.4 305.2,610.4 307.9,610.4 310.6,613.4 313.2,606.8 315.9,606.8 318.6,599.7 321.2,599.7 323.9,611.0 326.6,622.9 329.3,614.6 331.9,602.1 334.6,599.7 337.3,594.9 339.9,594.3 342.6,605.6 345.3,624.1 348.0,613.4 350.6,622.3 353.3,633.0 356.0,623.5 358.6,621.7 361.3,631.8 364.0,631.0 366.7,628.9 369.3,616.9 372.0,613.4 374.7,585.4 377.4,588.3 380.0,582.6 382.7,588.3 385.4,587.2 388.0,603.2 390.7,591.9 393.4,577.2 396.1,585.5 398.7,592.6 401.4,594.4 404.1,587.9 406.7,606.9 409.4,614.1 412.1,621.3 414.8,628.4 417.4,642.1 420.1,612.9 422.8,610.5 425.4,601.2 428.1,605.2 430.8,609.3 433.5,635.3 436.1,618.9 438.8,615.3 441.5,611.7 444.2,594.4 446.8,558.1 449.5,542.0 452.2,549.1 454.8,537.2 457.5,522.3 460.2,559.3 462.9,553.9 465.5,520.5 468.2,537.2 470.9,561.6 473.5,547.3 476.2,578.9 478.9,615.3 481.6,613.5 484.2,591.5 486.9,599.2 489.6,581.9 492.2,584.9 494.9,587.3 497.6,609.3 500.3,592.6 502.9,576.0 505.6,578.3 508.3,572.4 511.0,568.3 513.6,584.4 516.3,604.7 519.0,556.4 521.6,534.4 524.3,512.3 527.0,492.6 529.7,490.5 532.3,536.2 535.0,570.1 537.7,574.3 540.3,597.5 543.0,575.5 545.7,543.9 548.4,527.2 551.0,529.0 553.7,508.7 556.4,504.6 559.0,493.8 561.7,500.4 564.4,481.3 567.1,500.4 569.7,527.2 572.4,565.4 575.1,536.7 577.8,566.0 580.4,533.2 583.1,524.8 585.8,517.7 588.4,535.0 591.1,496.2 593.8,525.4 596.5,527.2 599.1,515.3 601.8,529.0 604.5,574.9 607.1,554.0 609.8,566.0 612.5,529.6 615.2,523.6 617.8,482.3 620.5,465.6 623.2,446.0 625.8,494.8 628.5,448.9 631.2,461.5 633.9,475.8 636.5,465.6 639.2,425.1 641.9,452.5 644.6,382.2 647.2,351.3 649.9,392.3 652.6,379.2 655.2,332.1 657.9,353.0 660.6,375.3 663.3,357.3 665.9,385.8 668.6,409.6 671.3,450.7 673.9,441.8 676.6,435.8 679.3,428.1 682.0,437.6 684.6,439.4 687.3,449.5 690.0,435.8 692.6,438.6 695.3,444.3 698.0,448.4 700.7,456.0 703.3,464.5 706.0,477.9 708.7,475.3 711.4,480.8 714.0,479.0 716.7,478.2 719.4,484.0 722.0,496.2 724.7,502.7 727.4,512.2 730.1,514.6 732.7,503.3 735.4,430.0 738.1,355.0 740.7,282.0 743.4,207.0 746.1,132.2 748.8,134.3 751.4,137.5 754.1,159.3 756.8,159.7 759.4,159.3 762.1,158.2 764.8,156.3 767.5,133.9 770.1,135.0 772.8,136.4 775.5,133.6 778.2,137.5 780.8,134.7 783.5,132.2 786.2,130.2 788.8,130.0 791.5,127.5 794.2,127.7 796.9,126.1 799.5,126.1 802.2,126.4 804.9,124.7 807.5,123.2 810.2,125.7 812.9,124.7 815.6,125.7 818.2,125.4 820.9,126.8 823.6,125.4 826.2,124.3 828.9,124.7 831.6,125.0 834.3,124.3 836.9,124.2 839.6,124.2 842.3,126.1 845.0,127.2 847.6,127.5 850.3,128.6 853.0,129.7 855.6,126.4 858.3,126.3 861.0,126.1 863.7,126.1 866.3,125.7 869.0,125.4"/><circle cx="70.1" cy="658.4" r="1.7" fill="#1269bd"/><circle cx="72.7" cy="657.8" r="1.7" fill="#1269bd"/><circle cx="75.4" cy="664.4" r="1.7" fill="#1269bd"/><circle cx="78.1" cy="662.6" r="1.7" fill="#1269bd"/><circle cx="80.8" cy="663.2" r="1.7" fill="#1269bd"/><circle cx="83.4" cy="655.1" r="1.7" fill="#1269bd"/><circle cx="86.1" cy="654.8" r="1.7" fill="#1269bd"/><circle cx="88.8" cy="653.0" r="1.7" fill="#1269bd"/><circle cx="91.4" cy="657.2" r="1.7" fill="#1269bd"/><circle cx="94.1" cy="659.6" r="1.7" fill="#1269bd"/><circle cx="96.8" cy="670.6" r="1.7" fill="#1269bd"/><circle cx="99.5" cy="671.5" r="1.7" fill="#1269bd"/><circle cx="102.1" cy="670.3" r="1.7" fill="#1269bd"/><circle cx="104.8" cy="669.5" r="1.7" fill="#1269bd"/><circle cx="107.5" cy="668.5" r="1.7" fill="#1269bd"/><circle cx="110.2" cy="662.6" r="1.7" fill="#1269bd"/><circle cx="112.8" cy="666.2" r="1.7" fill="#1269bd"/><circle cx="115.5" cy="664.4" r="1.7" fill="#1269bd"/><circle cx="118.2" cy="667.3" r="1.7" fill="#1269bd"/><circle cx="120.8" cy="664.4" r="1.7" fill="#1269bd"/><circle cx="123.5" cy="668.2" r="1.7" fill="#1269bd"/><circle cx="126.2" cy="666.2" r="1.7" fill="#1269bd"/><circle cx="128.9" cy="665.6" r="1.7" fill="#1269bd"/><circle cx="131.5" cy="663.5" r="1.7" fill="#1269bd"/><circle cx="134.2" cy="670.3" r="1.7" fill="#1269bd"/><circle cx="136.9" cy="673.9" r="1.7" fill="#1269bd"/><circle cx="139.5" cy="675.3" r="1.7" fill="#1269bd"/><circle cx="142.2" cy="677.5" r="1.7" fill="#1269bd"/><circle cx="144.9" cy="682.2" r="1.7" fill="#1269bd"/><circle cx="147.6" cy="678.1" r="1.7" fill="#1269bd"/><circle cx="150.2" cy="676.3" r="1.7" fill="#1269bd"/><circle cx="152.9" cy="672.1" r="1.7" fill="#1269bd"/><circle cx="155.6" cy="673.9" r="1.7" fill="#1269bd"/><circle cx="158.2" cy="665.6" r="1.7" fill="#1269bd"/><circle cx="160.9" cy="667.9" r="1.7" fill="#1269bd"/><circle cx="163.6" cy="660.2" r="1.7" fill="#1269bd"/><circle cx="166.3" cy="660.8" r="1.7" fill="#1269bd"/><circle cx="168.9" cy="659.0" r="1.7" fill="#1269bd"/><circle cx="171.6" cy="660.3" r="1.7" fill="#1269bd"/><circle cx="174.3" cy="659.1" r="1.7" fill="#1269bd"/><circle cx="177.0" cy="667.5" r="1.7" fill="#1269bd"/><circle cx="179.6" cy="674.6" r="1.7" fill="#1269bd"/><circle cx="182.3" cy="669.9" r="1.7" fill="#1269bd"/><circle cx="185.0" cy="665.7" r="1.7" fill="#1269bd"/><circle cx="187.6" cy="669.3" r="1.7" fill="#1269bd"/><circle cx="190.3" cy="663.3" r="1.7" fill="#1269bd"/><circle cx="193.0" cy="666.0" r="1.7" fill="#1269bd"/><circle cx="195.7" cy="663.9" r="1.7" fill="#1269bd"/><circle cx="198.3" cy="671.6" r="1.7" fill="#1269bd"/><circle cx="201.0" cy="659.1" r="1.7" fill="#1269bd"/><circle cx="203.7" cy="658.5" r="1.7" fill="#1269bd"/><circle cx="206.3" cy="656.2" r="1.7" fill="#1269bd"/><circle cx="209.0" cy="656.2" r="1.7" fill="#1269bd"/><circle cx="211.7" cy="655.3" r="1.7" fill="#1269bd"/><circle cx="214.4" cy="664.5" r="1.7" fill="#1269bd"/><circle cx="217.0" cy="666.9" r="1.7" fill="#1269bd"/><circle cx="219.7" cy="671.6" r="1.7" fill="#1269bd"/><circle cx="222.4" cy="667.5" r="1.7" fill="#1269bd"/><circle cx="225.0" cy="658.5" r="1.7" fill="#1269bd"/><circle cx="227.7" cy="649.0" r="1.7" fill="#1269bd"/><circle cx="230.4" cy="655.0" r="1.7" fill="#1269bd"/><circle cx="233.1" cy="648.2" r="1.7" fill="#1269bd"/><circle cx="235.7" cy="652.6" r="1.7" fill="#1269bd"/><circle cx="238.4" cy="660.3" r="1.7" fill="#1269bd"/><circle cx="241.1" cy="665.4" r="1.7" fill="#1269bd"/><circle cx="243.8" cy="661.5" r="1.7" fill="#1269bd"/><circle cx="246.4" cy="662.3" r="1.7" fill="#1269bd"/><circle cx="249.1" cy="651.7" r="1.7" fill="#1269bd"/><circle cx="251.8" cy="647.8" r="1.7" fill="#1269bd"/><circle cx="254.4" cy="644.2" r="1.7" fill="#1269bd"/><circle cx="257.1" cy="637.1" r="1.7" fill="#1269bd"/><circle cx="259.8" cy="632.0" r="1.7" fill="#1269bd"/><circle cx="262.5" cy="635.9" r="1.7" fill="#1269bd"/><circle cx="265.1" cy="635.9" r="1.7" fill="#1269bd"/><circle cx="267.8" cy="645.8" r="1.7" fill="#1269bd"/><circle cx="270.5" cy="645.8" r="1.7" fill="#1269bd"/><circle cx="273.1" cy="645.1" r="1.7" fill="#1269bd"/><circle cx="275.8" cy="638.3" r="1.7" fill="#1269bd"/><circle cx="278.5" cy="637.7" r="1.7" fill="#1269bd"/><circle cx="281.2" cy="630.1" r="1.7" fill="#1269bd"/><circle cx="283.8" cy="632.4" r="1.7" fill="#1269bd"/><circle cx="286.5" cy="634.8" r="1.7" fill="#1269bd"/><circle cx="289.2" cy="636.0" r="1.7" fill="#1269bd"/><circle cx="291.8" cy="635.1" r="1.7" fill="#1269bd"/><circle cx="294.5" cy="638.4" r="1.7" fill="#1269bd"/><circle cx="297.2" cy="612.2" r="1.7" fill="#1269bd"/><circle cx="299.9" cy="600.9" r="1.7" fill="#1269bd"/><circle cx="302.5" cy="610.4" r="1.7" fill="#1269bd"/><circle cx="305.2" cy="610.4" r="1.7" fill="#1269bd"/><circle cx="307.9" cy="610.4" r="1.7" fill="#1269bd"/><circle cx="310.6" cy="613.4" r="1.7" fill="#1269bd"/><circle cx="313.2" cy="606.8" r="1.7" fill="#1269bd"/><circle cx="315.9" cy="606.8" r="1.7" fill="#1269bd"/><circle cx="318.6" cy="599.7" r="1.7" fill="#1269bd"/><circle cx="321.2" cy="599.7" r="1.7" fill="#1269bd"/><circle cx="323.9" cy="611.0" r="1.7" fill="#1269bd"/><circle cx="326.6" cy="622.9" r="1.7" fill="#1269bd"/><circle cx="329.3" cy="614.6" r="1.7" fill="#1269bd"/><circle cx="331.9" cy="602.1" r="1.7" fill="#1269bd"/><circle cx="334.6" cy="599.7" r="1.7" fill="#1269bd"/><circle cx="337.3" cy="594.9" r="1.7" fill="#1269bd"/><circle cx="339.9" cy="594.3" r="1.7" fill="#1269bd"/><circle cx="342.6" cy="605.6" r="1.7" fill="#1269bd"/><circle cx="345.3" cy="624.1" r="1.7" fill="#1269bd"/><circle cx="348.0" cy="613.4" r="1.7" fill="#1269bd"/><circle cx="350.6" cy="622.3" r="1.7" fill="#1269bd"/><circle cx="353.3" cy="633.0" r="1.7" fill="#1269bd"/><circle cx="356.0" cy="623.5" r="1.7" fill="#1269bd"/><circle cx="358.6" cy="621.7" r="1.7" fill="#1269bd"/><circle cx="361.3" cy="631.8" r="1.7" fill="#1269bd"/><circle cx="364.0" cy="631.0" r="1.7" fill="#1269bd"/><circle cx="366.7" cy="628.9" r="1.7" fill="#1269bd"/><circle cx="369.3" cy="616.9" r="1.7" fill="#1269bd"/><circle cx="372.0" cy="613.4" r="1.7" fill="#1269bd"/><circle cx="374.7" cy="585.4" r="1.7" fill="#1269bd"/><circle cx="377.4" cy="588.3" r="1.7" fill="#1269bd"/><circle cx="380.0" cy="582.6" r="1.7" fill="#1269bd"/><circle cx="382.7" cy="588.3" r="1.7" fill="#1269bd"/><circle cx="385.4" cy="587.2" r="1.7" fill="#1269bd"/><circle cx="388.0" cy="603.2" r="1.7" fill="#1269bd"/><circle cx="390.7" cy="591.9" r="1.7" fill="#1269bd"/><circle cx="393.4" cy="577.2" r="1.7" fill="#1269bd"/><circle cx="396.1" cy="585.5" r="1.7" fill="#1269bd"/><circle cx="398.7" cy="592.6" r="1.7" fill="#1269bd"/><circle cx="401.4" cy="594.4" r="1.7" fill="#1269bd"/><circle cx="404.1" cy="587.9" r="1.7" fill="#1269bd"/><circle cx="406.7" cy="606.9" r="1.7" fill="#1269bd"/><circle cx="409.4" cy="614.1" r="1.7" fill="#1269bd"/><circle cx="412.1" cy="621.3" r="1.7" fill="#1269bd"/><circle cx="414.8" cy="628.4" r="1.7" fill="#1269bd"/><circle cx="417.4" cy="642.1" r="1.7" fill="#1269bd"/><circle cx="420.1" cy="612.9" r="1.7" fill="#1269bd"/><circle cx="422.8" cy="610.5" r="1.7" fill="#1269bd"/><circle cx="425.4" cy="601.2" r="1.7" fill="#1269bd"/><circle cx="428.1" cy="605.2" r="1.7" fill="#1269bd"/><circle cx="430.8" cy="609.3" r="1.7" fill="#1269bd"/><circle cx="433.5" cy="635.3" r="1.7" fill="#1269bd"/><circle cx="436.1" cy="618.9" r="1.7" fill="#1269bd"/><circle cx="438.8" cy="615.3" r="1.7" fill="#1269bd"/><circle cx="441.5" cy="611.7" r="1.7" fill="#1269bd"/><circle cx="444.2" cy="594.4" r="1.7" fill="#1269bd"/><circle cx="446.8" cy="558.1" r="1.7" fill="#1269bd"/><circle cx="449.5" cy="542.0" r="1.7" fill="#1269bd"/><circle cx="452.2" cy="549.1" r="1.7" fill="#1269bd"/><circle cx="454.8" cy="537.2" r="1.7" fill="#1269bd"/><circle cx="457.5" cy="522.3" r="1.7" fill="#1269bd"/><circle cx="460.2" cy="559.3" r="1.7" fill="#1269bd"/><circle cx="462.9" cy="553.9" r="1.7" fill="#1269bd"/><circle cx="465.5" cy="520.5" r="1.7" fill="#1269bd"/><circle cx="468.2" cy="537.2" r="1.7" fill="#1269bd"/><circle cx="470.9" cy="561.6" r="1.7" fill="#1269bd"/><circle cx="473.5" cy="547.3" r="1.7" fill="#1269bd"/><circle cx="476.2" cy="578.9" r="1.7" fill="#1269bd"/><circle cx="478.9" cy="615.3" r="1.7" fill="#1269bd"/><circle cx="481.6" cy="613.5" r="1.7" fill="#1269bd"/><circle cx="484.2" cy="591.5" r="1.7" fill="#1269bd"/><circle cx="486.9" cy="599.2" r="1.7" fill="#1269bd"/><circle cx="489.6" cy="581.9" r="1.7" fill="#1269bd"/><circle cx="492.2" cy="584.9" r="1.7" fill="#1269bd"/><circle cx="494.9" cy="587.3" r="1.7" fill="#1269bd"/><circle cx="497.6" cy="609.3" r="1.7" fill="#1269bd"/><circle cx="500.3" cy="592.6" r="1.7" fill="#1269bd"/><circle cx="502.9" cy="576.0" r="1.7" fill="#1269bd"/><circle cx="505.6" cy="578.3" r="1.7" fill="#1269bd"/><circle cx="508.3" cy="572.4" r="1.7" fill="#1269bd"/><circle cx="511.0" cy="568.3" r="1.7" fill="#1269bd"/><circle cx="513.6" cy="584.4" r="1.7" fill="#1269bd"/><circle cx="516.3" cy="604.7" r="1.7" fill="#1269bd"/><circle cx="519.0" cy="556.4" r="1.7" fill="#1269bd"/><circle cx="521.6" cy="534.4" r="1.7" fill="#1269bd"/><circle cx="524.3" cy="512.3" r="1.7" fill="#1269bd"/><circle cx="527.0" cy="492.6" r="1.7" fill="#1269bd"/><circle cx="529.7" cy="490.5" r="1.7" fill="#1269bd"/><circle cx="532.3" cy="536.2" r="1.7" fill="#1269bd"/><circle cx="535.0" cy="570.1" r="1.7" fill="#1269bd"/><circle cx="537.7" cy="574.3" r="1.7" fill="#1269bd"/><circle cx="540.3" cy="597.5" r="1.7" fill="#1269bd"/><circle cx="543.0" cy="575.5" r="1.7" fill="#1269bd"/><circle cx="545.7" cy="543.9" r="1.7" fill="#1269bd"/><circle cx="548.4" cy="527.2" r="1.7" fill="#1269bd"/><circle cx="551.0" cy="529.0" r="1.7" fill="#1269bd"/><circle cx="553.7" cy="508.7" r="1.7" fill="#1269bd"/><circle cx="556.4" cy="504.6" r="1.7" fill="#1269bd"/><circle cx="559.0" cy="493.8" r="1.7" fill="#1269bd"/><circle cx="561.7" cy="500.4" r="1.7" fill="#1269bd"/><circle cx="564.4" cy="481.3" r="1.7" fill="#1269bd"/><circle cx="567.1" cy="500.4" r="1.7" fill="#1269bd"/><circle cx="569.7" cy="527.2" r="1.7" fill="#1269bd"/><circle cx="572.4" cy="565.4" r="1.7" fill="#1269bd"/><circle cx="575.1" cy="536.7" r="1.7" fill="#1269bd"/><circle cx="577.8" cy="566.0" r="1.7" fill="#1269bd"/><circle cx="580.4" cy="533.2" r="1.7" fill="#1269bd"/><circle cx="583.1" cy="524.8" r="1.7" fill="#1269bd"/><circle cx="585.8" cy="517.7" r="1.7" fill="#1269bd"/><circle cx="588.4" cy="535.0" r="1.7" fill="#1269bd"/><circle cx="591.1" cy="496.2" r="1.7" fill="#1269bd"/><circle cx="593.8" cy="525.4" r="1.7" fill="#1269bd"/><circle cx="596.5" cy="527.2" r="1.7" fill="#1269bd"/><circle cx="599.1" cy="515.3" r="1.7" fill="#1269bd"/><circle cx="601.8" cy="529.0" r="1.7" fill="#1269bd"/><circle cx="604.5" cy="574.9" r="1.7" fill="#1269bd"/><circle cx="607.1" cy="554.0" r="1.7" fill="#1269bd"/><circle cx="609.8" cy="566.0" r="1.7" fill="#1269bd"/><circle cx="612.5" cy="529.6" r="1.7" fill="#1269bd"/><circle cx="615.2" cy="523.6" r="1.7" fill="#1269bd"/><circle cx="617.8" cy="482.3" r="1.7" fill="#1269bd"/><circle cx="620.5" cy="465.6" r="1.7" fill="#1269bd"/><circle cx="623.2" cy="446.0" r="1.7" fill="#1269bd"/><circle cx="625.8" cy="494.8" r="1.7" fill="#1269bd"/><circle cx="628.5" cy="448.9" r="1.7" fill="#1269bd"/><circle cx="631.2" cy="461.5" r="1.7" fill="#1269bd"/><circle cx="633.9" cy="475.8" r="1.7" fill="#1269bd"/><circle cx="636.5" cy="465.6" r="1.7" fill="#1269bd"/><circle cx="639.2" cy="425.1" r="1.7" fill="#1269bd"/><circle cx="641.9" cy="452.5" r="1.7" fill="#1269bd"/><circle cx="644.6" cy="382.2" r="1.7" fill="#1269bd"/><circle cx="647.2" cy="351.3" r="1.7" fill="#1269bd"/><circle cx="649.9" cy="392.3" r="1.7" fill="#1269bd"/><circle cx="652.6" cy="379.2" r="1.7" fill="#1269bd"/><circle cx="655.2" cy="332.1" r="1.7" fill="#1269bd"/><circle cx="657.9" cy="353.0" r="1.7" fill="#1269bd"/><circle cx="660.6" cy="375.3" r="1.7" fill="#1269bd"/><circle cx="663.3" cy="357.3" r="1.7" fill="#1269bd"/><circle cx="665.9" cy="385.8" r="1.7" fill="#1269bd"/><circle cx="668.6" cy="409.6" r="1.7" fill="#1269bd"/><circle cx="671.3" cy="450.7" r="1.7" fill="#1269bd"/><circle cx="673.9" cy="441.8" r="1.7" fill="#1269bd"/><circle cx="676.6" cy="435.8" r="1.7" fill="#1269bd"/><circle cx="679.3" cy="428.1" r="1.7" fill="#1269bd"/><circle cx="682.0" cy="437.6" r="1.7" fill="#1269bd"/><circle cx="684.6" cy="439.4" r="1.7" fill="#1269bd"/><circle cx="687.3" cy="449.5" r="1.7" fill="#1269bd"/><circle cx="690.0" cy="435.8" r="1.7" fill="#1269bd"/><circle cx="692.6" cy="438.6" r="1.7" fill="#1269bd"/><circle cx="695.3" cy="444.3" r="1.7" fill="#1269bd"/><circle cx="698.0" cy="448.4" r="1.7" fill="#1269bd"/><circle cx="700.7" cy="456.0" r="1.7" fill="#1269bd"/><circle cx="703.3" cy="464.5" r="1.7" fill="#1269bd"/><circle cx="706.0" cy="477.9" r="1.7" fill="#1269bd"/><circle cx="708.7" cy="475.3" r="1.7" fill="#1269bd"/><circle cx="711.4" cy="480.8" r="1.7" fill="#1269bd"/><circle cx="714.0" cy="479.0" r="1.7" fill="#1269bd"/><circle cx="716.7" cy="478.2" r="1.7" fill="#1269bd"/><circle cx="719.4" cy="484.0" r="1.7" fill="#1269bd"/><circle cx="722.0" cy="496.2" r="1.7" fill="#1269bd"/><circle cx="724.7" cy="502.7" r="1.7" fill="#1269bd"/><circle cx="727.4" cy="512.2" r="1.7" fill="#1269bd"/><circle cx="730.1" cy="514.6" r="1.7" fill="#1269bd"/><circle cx="732.7" cy="503.3" r="1.7" fill="#1269bd"/><circle cx="735.4" cy="430.0" r="1.7" fill="#1269bd"/><circle cx="738.1" cy="355.0" r="1.7" fill="#1269bd"/><circle cx="740.7" cy="282.0" r="1.7" fill="#1269bd"/><circle cx="743.4" cy="207.0" r="1.7" fill="#1269bd"/><circle cx="746.1" cy="132.2" r="1.7" fill="#1269bd"/><circle cx="748.8" cy="134.3" r="1.7" fill="#1269bd"/><circle cx="751.4" cy="137.5" r="1.7" fill="#1269bd"/><circle cx="754.1" cy="159.3" r="1.7" fill="#1269bd"/><circle cx="756.8" cy="159.7" r="1.7" fill="#1269bd"/><circle cx="759.4" cy="159.3" r="1.7" fill="#1269bd"/><circle cx="762.1" cy="158.2" r="1.7" fill="#1269bd"/><circle cx="764.8" cy="156.3" r="1.7" fill="#1269bd"/><circle cx="767.5" cy="133.9" r="1.7" fill="#1269bd"/><circle cx="770.1" cy="135.0" r="1.7" fill="#1269bd"/><circle cx="772.8" cy="136.4" r="1.7" fill="#1269bd"/><circle cx="775.5" cy="133.6" r="1.7" fill="#1269bd"/><circle cx="778.2" cy="137.5" r="1.7" fill="#1269bd"/><circle cx="780.8" cy="134.7" r="1.7" fill="#1269bd"/><circle cx="783.5" cy="132.2" r="1.7" fill="#1269bd"/><circle cx="786.2" cy="130.2" r="1.7" fill="#1269bd"/><circle cx="788.8" cy="130.0" r="1.7" fill="#1269bd"/><circle cx="791.5" cy="127.5" r="1.7" fill="#1269bd"/><circle cx="794.2" cy="127.7" r="1.7" fill="#1269bd"/><circle cx="796.9" cy="126.1" r="1.7" fill="#1269bd"/><circle cx="799.5" cy="126.1" r="1.7" fill="#1269bd"/><circle cx="802.2" cy="126.4" r="1.7" fill="#1269bd"/><circle cx="804.9" cy="124.7" r="1.7" fill="#1269bd"/><circle cx="807.5" cy="123.2" r="1.7" fill="#1269bd"/><circle cx="810.2" cy="125.7" r="1.7" fill="#1269bd"/><circle cx="812.9" cy="124.7" r="1.7" fill="#1269bd"/><circle cx="815.6" cy="125.7" r="1.7" fill="#1269bd"/><circle cx="818.2" cy="125.4" r="1.7" fill="#1269bd"/><circle cx="820.9" cy="126.8" r="1.7" fill="#1269bd"/><circle cx="823.6" cy="125.4" r="1.7" fill="#1269bd"/><circle cx="826.2" cy="124.3" r="1.7" fill="#1269bd"/><circle cx="828.9" cy="124.7" r="1.7" fill="#1269bd"/><circle cx="831.6" cy="125.0" r="1.7" fill="#1269bd"/><circle cx="834.3" cy="124.3" r="1.7" fill="#1269bd"/><circle cx="836.9" cy="124.2" r="1.7" fill="#1269bd"/><circle cx="839.6" cy="124.2" r="1.7" fill="#1269bd"/><circle cx="842.3" cy="126.1" r="1.7" fill="#1269bd"/><circle cx="845.0" cy="127.2" r="1.7" fill="#1269bd"/><circle cx="847.6" cy="127.5" r="1.7" fill="#1269bd"/><circle cx="850.3" cy="128.6" r="1.7" fill="#1269bd"/><circle cx="853.0" cy="129.7" r="1.7" fill="#1269bd"/><circle cx="855.6" cy="126.4" r="1.7" fill="#1269bd"/><circle cx="858.3" cy="126.3" r="1.7" fill="#1269bd"/><circle cx="861.0" cy="126.1" r="1.7" fill="#1269bd"/><circle cx="863.7" cy="126.1" r="1.7" fill="#1269bd"/><circle cx="866.3" cy="125.7" r="1.7" fill="#1269bd"/><circle cx="869.0" cy="125.4" r="1.7" fill="#1269bd"/><polyline fill="none" stroke="#edb120" stroke-width="1.0" stroke-linejoin="round" points="70.1,655.4 72.7,655.4 75.4,655.4 78.1,655.4 80.8,655.4 83.4,655.4 86.1,655.4 88.8,655.4 91.4,655.4 94.1,655.4 96.8,655.4 99.5,655.4 102.1,655.4 104.8,655.4 107.5,655.4 110.2,656.3 112.8,656.3 115.5,656.3 118.2,656.3 120.8,656.3 123.5,656.3 126.2,656.3 128.9,656.3 131.5,656.3 134.2,656.3 136.9,656.3 139.5,656.3 142.2,656.3 144.9,656.3 147.6,656.3 150.2,656.3 152.9,656.3 155.6,661.4 158.2,661.4 160.9,661.4 163.6,661.4 166.3,661.4 168.9,661.4 171.6,661.5 174.3,661.5 177.0,661.5 179.6,661.5 182.3,661.5 185.0,661.5 187.6,661.5 190.3,661.5 193.0,661.5 195.7,661.5 198.3,661.5 201.0,661.5 203.7,661.5 206.3,661.5 209.0,661.5 211.7,662.0 214.4,662.0 217.0,662.0 219.7,662.0 222.4,662.0 225.0,662.0 227.7,662.0 230.4,662.0 233.1,656.2 235.7,656.7 238.4,656.7 241.1,656.7 243.8,656.7 246.4,656.7 249.1,657.7 251.8,657.7 254.4,657.7 257.1,657.7 259.8,657.7 262.5,648.4 265.1,648.6 267.8,648.2 270.5,648.4 273.1,650.2 275.8,648.2 278.5,648.2 281.2,649.1 283.8,648.3 286.5,651.2 289.2,642.6 291.8,642.2 294.5,648.5 297.2,642.2 299.9,642.2 302.5,647.7 305.2,642.0 307.9,641.4 310.6,634.6 313.2,632.2 315.9,640.5 318.6,631.5 321.2,640.5 323.9,629.1 326.6,624.3 329.3,626.2 331.9,629.1 334.6,636.6 337.3,626.5 339.9,623.1 342.6,632.2 345.3,616.4 348.0,621.1 350.6,627.7 353.3,632.4 356.0,618.1 358.6,615.2 361.3,613.4 364.0,613.6 366.7,629.1 369.3,621.1 372.0,614.0 374.7,620.5 377.4,623.5 380.0,618.4 382.7,615.5 385.4,609.6 388.0,608.4 390.7,614.7 393.4,605.8 396.1,615.3 398.7,614.3 401.4,605.2 404.1,606.4 406.7,619.5 409.4,625.8 412.1,628.4 414.8,618.9 417.4,616.2 420.1,609.1 422.8,626.3 425.4,604.6 428.1,622.4 430.8,625.4 433.5,618.9 436.1,603.4 438.8,611.7 441.5,613.5 444.2,609.3 446.8,605.2 449.5,606.4 452.2,615.3 454.8,601.2 457.5,602.4 460.2,613.5 462.9,606.4 465.5,605.2 468.2,617.4 470.9,614.3 473.5,589.1 476.2,619.5 478.9,612.3 481.6,612.0 484.2,593.2 486.9,614.3 489.6,589.1 492.2,623.6 494.9,619.1 497.6,616.2 500.3,595.8 502.9,598.7 505.6,629.5 508.3,612.2 511.0,618.4 513.6,616.3 516.3,584.4 519.0,598.4 521.6,595.4 524.3,585.3 527.0,582.3 529.7,581.5 532.3,621.4 535.0,631.5 537.7,583.2 540.3,622.3 543.0,598.4 545.7,583.5 548.4,604.3 551.0,596.4 553.7,581.5 556.4,585.3 559.0,588.4 561.7,607.4 564.4,584.4 567.1,616.3 569.7,576.3 572.4,617.6 575.1,577.3 577.8,605.3 580.4,592.2 583.1,573.3 585.8,597.5 588.4,573.1 591.1,572.9 593.8,603.5 596.5,573.1 599.1,586.2 601.8,604.5 604.5,614.6 607.1,573.5 609.8,595.3 612.5,576.2 615.2,607.5 617.8,580.3 620.5,576.2 623.2,571.4 625.8,610.5 628.5,580.3 631.2,565.8 633.9,566.1 636.5,574.3 639.2,565.2 641.9,575.3 644.6,569.1 647.2,562.2 649.9,581.5 652.6,561.2 655.2,564.6 657.9,568.4 660.6,559.2 663.3,587.6 665.9,559.2 668.6,561.2 671.3,561.6 673.9,574.3 676.6,564.6 679.3,561.2 682.0,561.2 684.6,562.2 687.3,565.2 690.0,567.5 692.6,565.4 695.3,565.2 698.0,566.4 700.7,566.4 703.3,566.1 706.0,568.4 708.7,569.3 711.4,568.2 714.0,566.5 716.7,566.5 719.4,571.4 722.0,569.3 724.7,569.3 727.4,566.5 730.1,567.5 732.7,566.5 735.4,571.4 738.1,571.4 740.7,564.2 743.4,566.5 746.1,564.2 748.8,561.4 751.4,559.3 754.1,557.6 756.8,557.3 759.4,555.5 762.1,556.4 764.8,554.3 767.5,555.5 770.1,554.3 772.8,555.5 775.5,552.3 778.2,556.4 780.8,552.3 783.5,552.3 786.2,554.3 788.8,551.2 791.5,553.3 794.2,551.5 796.9,550.5 799.5,550.5 802.2,552.3 804.9,551.5 807.5,550.5 810.2,554.3 812.9,551.2 815.6,552.3 818.2,551.5 820.9,552.3 823.6,551.5 826.2,550.2 828.9,551.5 831.6,551.5 834.3,549.4 836.9,549.4 839.6,549.4 842.3,553.3 845.0,551.5 847.6,549.4 850.3,551.5 853.0,550.8 855.6,550.5 858.3,549.4 861.0,551.5 863.7,551.5 866.3,549.4 869.0,549.4"/><circle cx="70.1" cy="655.4" r="1.45" fill="#edb120"/><circle cx="72.7" cy="655.4" r="1.45" fill="#edb120"/><circle cx="75.4" cy="655.4" r="1.45" fill="#edb120"/><circle cx="78.1" cy="655.4" r="1.45" fill="#edb120"/><circle cx="80.8" cy="655.4" r="1.45" fill="#edb120"/><circle cx="83.4" cy="655.4" r="1.45" fill="#edb120"/><circle cx="86.1" cy="655.4" r="1.45" fill="#edb120"/><circle cx="88.8" cy="655.4" r="1.45" fill="#edb120"/><circle cx="91.4" cy="655.4" r="1.45" fill="#edb120"/><circle cx="94.1" cy="655.4" r="1.45" fill="#edb120"/><circle cx="96.8" cy="655.4" r="1.45" fill="#edb120"/><circle cx="99.5" cy="655.4" r="1.45" fill="#edb120"/><circle cx="102.1" cy="655.4" r="1.45" fill="#edb120"/><circle cx="104.8" cy="655.4" r="1.45" fill="#edb120"/><circle cx="107.5" cy="655.4" r="1.45" fill="#edb120"/><circle cx="110.2" cy="656.3" r="1.45" fill="#edb120"/><circle cx="112.8" cy="656.3" r="1.45" fill="#edb120"/><circle cx="115.5" cy="656.3" r="1.45" fill="#edb120"/><circle cx="118.2" cy="656.3" r="1.45" fill="#edb120"/><circle cx="120.8" cy="656.3" r="1.45" fill="#edb120"/><circle cx="123.5" cy="656.3" r="1.45" fill="#edb120"/><circle cx="126.2" cy="656.3" r="1.45" fill="#edb120"/><circle cx="128.9" cy="656.3" r="1.45" fill="#edb120"/><circle cx="131.5" cy="656.3" r="1.45" fill="#edb120"/><circle cx="134.2" cy="656.3" r="1.45" fill="#edb120"/><circle cx="136.9" cy="656.3" r="1.45" fill="#edb120"/><circle cx="139.5" cy="656.3" r="1.45" fill="#edb120"/><circle cx="142.2" cy="656.3" r="1.45" fill="#edb120"/><circle cx="144.9" cy="656.3" r="1.45" fill="#edb120"/><circle cx="147.6" cy="656.3" r="1.45" fill="#edb120"/><circle cx="150.2" cy="656.3" r="1.45" fill="#edb120"/><circle cx="152.9" cy="656.3" r="1.45" fill="#edb120"/><circle cx="155.6" cy="661.4" r="1.45" fill="#edb120"/><circle cx="158.2" cy="661.4" r="1.45" fill="#edb120"/><circle cx="160.9" cy="661.4" r="1.45" fill="#edb120"/><circle cx="163.6" cy="661.4" r="1.45" fill="#edb120"/><circle cx="166.3" cy="661.4" r="1.45" fill="#edb120"/><circle cx="168.9" cy="661.4" r="1.45" fill="#edb120"/><circle cx="171.6" cy="661.5" r="1.45" fill="#edb120"/><circle cx="174.3" cy="661.5" r="1.45" fill="#edb120"/><circle cx="177.0" cy="661.5" r="1.45" fill="#edb120"/><circle cx="179.6" cy="661.5" r="1.45" fill="#edb120"/><circle cx="182.3" cy="661.5" r="1.45" fill="#edb120"/><circle cx="185.0" cy="661.5" r="1.45" fill="#edb120"/><circle cx="187.6" cy="661.5" r="1.45" fill="#edb120"/><circle cx="190.3" cy="661.5" r="1.45" fill="#edb120"/><circle cx="193.0" cy="661.5" r="1.45" fill="#edb120"/><circle cx="195.7" cy="661.5" r="1.45" fill="#edb120"/><circle cx="198.3" cy="661.5" r="1.45" fill="#edb120"/><circle cx="201.0" cy="661.5" r="1.45" fill="#edb120"/><circle cx="203.7" cy="661.5" r="1.45" fill="#edb120"/><circle cx="206.3" cy="661.5" r="1.45" fill="#edb120"/><circle cx="209.0" cy="661.5" r="1.45" fill="#edb120"/><circle cx="211.7" cy="662.0" r="1.45" fill="#edb120"/><circle cx="214.4" cy="662.0" r="1.45" fill="#edb120"/><circle cx="217.0" cy="662.0" r="1.45" fill="#edb120"/><circle cx="219.7" cy="662.0" r="1.45" fill="#edb120"/><circle cx="222.4" cy="662.0" r="1.45" fill="#edb120"/><circle cx="225.0" cy="662.0" r="1.45" fill="#edb120"/><circle cx="227.7" cy="662.0" r="1.45" fill="#edb120"/><circle cx="230.4" cy="662.0" r="1.45" fill="#edb120"/><circle cx="233.1" cy="656.2" r="1.45" fill="#edb120"/><circle cx="235.7" cy="656.7" r="1.45" fill="#edb120"/><circle cx="238.4" cy="656.7" r="1.45" fill="#edb120"/><circle cx="241.1" cy="656.7" r="1.45" fill="#edb120"/><circle cx="243.8" cy="656.7" r="1.45" fill="#edb120"/><circle cx="246.4" cy="656.7" r="1.45" fill="#edb120"/><circle cx="249.1" cy="657.7" r="1.45" fill="#edb120"/><circle cx="251.8" cy="657.7" r="1.45" fill="#edb120"/><circle cx="254.4" cy="657.7" r="1.45" fill="#edb120"/><circle cx="257.1" cy="657.7" r="1.45" fill="#edb120"/><circle cx="259.8" cy="657.7" r="1.45" fill="#edb120"/><circle cx="262.5" cy="648.4" r="1.45" fill="#edb120"/><circle cx="265.1" cy="648.6" r="1.45" fill="#edb120"/><circle cx="267.8" cy="648.2" r="1.45" fill="#edb120"/><circle cx="270.5" cy="648.4" r="1.45" fill="#edb120"/><circle cx="273.1" cy="650.2" r="1.45" fill="#edb120"/><circle cx="275.8" cy="648.2" r="1.45" fill="#edb120"/><circle cx="278.5" cy="648.2" r="1.45" fill="#edb120"/><circle cx="281.2" cy="649.1" r="1.45" fill="#edb120"/><circle cx="283.8" cy="648.3" r="1.45" fill="#edb120"/><circle cx="286.5" cy="651.2" r="1.45" fill="#edb120"/><circle cx="289.2" cy="642.6" r="1.45" fill="#edb120"/><circle cx="291.8" cy="642.2" r="1.45" fill="#edb120"/><circle cx="294.5" cy="648.5" r="1.45" fill="#edb120"/><circle cx="297.2" cy="642.2" r="1.45" fill="#edb120"/><circle cx="299.9" cy="642.2" r="1.45" fill="#edb120"/><circle cx="302.5" cy="647.7" r="1.45" fill="#edb120"/><circle cx="305.2" cy="642.0" r="1.45" fill="#edb120"/><circle cx="307.9" cy="641.4" r="1.45" fill="#edb120"/><circle cx="310.6" cy="634.6" r="1.45" fill="#edb120"/><circle cx="313.2" cy="632.2" r="1.45" fill="#edb120"/><circle cx="315.9" cy="640.5" r="1.45" fill="#edb120"/><circle cx="318.6" cy="631.5" r="1.45" fill="#edb120"/><circle cx="321.2" cy="640.5" r="1.45" fill="#edb120"/><circle cx="323.9" cy="629.1" r="1.45" fill="#edb120"/><circle cx="326.6" cy="624.3" r="1.45" fill="#edb120"/><circle cx="329.3" cy="626.2" r="1.45" fill="#edb120"/><circle cx="331.9" cy="629.1" r="1.45" fill="#edb120"/><circle cx="334.6" cy="636.6" r="1.45" fill="#edb120"/><circle cx="337.3" cy="626.5" r="1.45" fill="#edb120"/><circle cx="339.9" cy="623.1" r="1.45" fill="#edb120"/><circle cx="342.6" cy="632.2" r="1.45" fill="#edb120"/><circle cx="345.3" cy="616.4" r="1.45" fill="#edb120"/><circle cx="348.0" cy="621.1" r="1.45" fill="#edb120"/><circle cx="350.6" cy="627.7" r="1.45" fill="#edb120"/><circle cx="353.3" cy="632.4" r="1.45" fill="#edb120"/><circle cx="356.0" cy="618.1" r="1.45" fill="#edb120"/><circle cx="358.6" cy="615.2" r="1.45" fill="#edb120"/><circle cx="361.3" cy="613.4" r="1.45" fill="#edb120"/><circle cx="364.0" cy="613.6" r="1.45" fill="#edb120"/><circle cx="366.7" cy="629.1" r="1.45" fill="#edb120"/><circle cx="369.3" cy="621.1" r="1.45" fill="#edb120"/><circle cx="372.0" cy="614.0" r="1.45" fill="#edb120"/><circle cx="374.7" cy="620.5" r="1.45" fill="#edb120"/><circle cx="377.4" cy="623.5" r="1.45" fill="#edb120"/><circle cx="380.0" cy="618.4" r="1.45" fill="#edb120"/><circle cx="382.7" cy="615.5" r="1.45" fill="#edb120"/><circle cx="385.4" cy="609.6" r="1.45" fill="#edb120"/><circle cx="388.0" cy="608.4" r="1.45" fill="#edb120"/><circle cx="390.7" cy="614.7" r="1.45" fill="#edb120"/><circle cx="393.4" cy="605.8" r="1.45" fill="#edb120"/><circle cx="396.1" cy="615.3" r="1.45" fill="#edb120"/><circle cx="398.7" cy="614.3" r="1.45" fill="#edb120"/><circle cx="401.4" cy="605.2" r="1.45" fill="#edb120"/><circle cx="404.1" cy="606.4" r="1.45" fill="#edb120"/><circle cx="406.7" cy="619.5" r="1.45" fill="#edb120"/><circle cx="409.4" cy="625.8" r="1.45" fill="#edb120"/><circle cx="412.1" cy="628.4" r="1.45" fill="#edb120"/><circle cx="414.8" cy="618.9" r="1.45" fill="#edb120"/><circle cx="417.4" cy="616.2" r="1.45" fill="#edb120"/><circle cx="420.1" cy="609.1" r="1.45" fill="#edb120"/><circle cx="422.8" cy="626.3" r="1.45" fill="#edb120"/><circle cx="425.4" cy="604.6" r="1.45" fill="#edb120"/><circle cx="428.1" cy="622.4" r="1.45" fill="#edb120"/><circle cx="430.8" cy="625.4" r="1.45" fill="#edb120"/><circle cx="433.5" cy="618.9" r="1.45" fill="#edb120"/><circle cx="436.1" cy="603.4" r="1.45" fill="#edb120"/><circle cx="438.8" cy="611.7" r="1.45" fill="#edb120"/><circle cx="441.5" cy="613.5" r="1.45" fill="#edb120"/><circle cx="444.2" cy="609.3" r="1.45" fill="#edb120"/><circle cx="446.8" cy="605.2" r="1.45" fill="#edb120"/><circle cx="449.5" cy="606.4" r="1.45" fill="#edb120"/><circle cx="452.2" cy="615.3" r="1.45" fill="#edb120"/><circle cx="454.8" cy="601.2" r="1.45" fill="#edb120"/><circle cx="457.5" cy="602.4" r="1.45" fill="#edb120"/><circle cx="460.2" cy="613.5" r="1.45" fill="#edb120"/><circle cx="462.9" cy="606.4" r="1.45" fill="#edb120"/><circle cx="465.5" cy="605.2" r="1.45" fill="#edb120"/><circle cx="468.2" cy="617.4" r="1.45" fill="#edb120"/><circle cx="470.9" cy="614.3" r="1.45" fill="#edb120"/><circle cx="473.5" cy="589.1" r="1.45" fill="#edb120"/><circle cx="476.2" cy="619.5" r="1.45" fill="#edb120"/><circle cx="478.9" cy="612.3" r="1.45" fill="#edb120"/><circle cx="481.6" cy="612.0" r="1.45" fill="#edb120"/><circle cx="484.2" cy="593.2" r="1.45" fill="#edb120"/><circle cx="486.9" cy="614.3" r="1.45" fill="#edb120"/><circle cx="489.6" cy="589.1" r="1.45" fill="#edb120"/><circle cx="492.2" cy="623.6" r="1.45" fill="#edb120"/><circle cx="494.9" cy="619.1" r="1.45" fill="#edb120"/><circle cx="497.6" cy="616.2" r="1.45" fill="#edb120"/><circle cx="500.3" cy="595.8" r="1.45" fill="#edb120"/><circle cx="502.9" cy="598.7" r="1.45" fill="#edb120"/><circle cx="505.6" cy="629.5" r="1.45" fill="#edb120"/><circle cx="508.3" cy="612.2" r="1.45" fill="#edb120"/><circle cx="511.0" cy="618.4" r="1.45" fill="#edb120"/><circle cx="513.6" cy="616.3" r="1.45" fill="#edb120"/><circle cx="516.3" cy="584.4" r="1.45" fill="#edb120"/><circle cx="519.0" cy="598.4" r="1.45" fill="#edb120"/><circle cx="521.6" cy="595.4" r="1.45" fill="#edb120"/><circle cx="524.3" cy="585.3" r="1.45" fill="#edb120"/><circle cx="527.0" cy="582.3" r="1.45" fill="#edb120"/><circle cx="529.7" cy="581.5" r="1.45" fill="#edb120"/><circle cx="532.3" cy="621.4" r="1.45" fill="#edb120"/><circle cx="535.0" cy="631.5" r="1.45" fill="#edb120"/><circle cx="537.7" cy="583.2" r="1.45" fill="#edb120"/><circle cx="540.3" cy="622.3" r="1.45" fill="#edb120"/><circle cx="543.0" cy="598.4" r="1.45" fill="#edb120"/><circle cx="545.7" cy="583.5" r="1.45" fill="#edb120"/><circle cx="548.4" cy="604.3" r="1.45" fill="#edb120"/><circle cx="551.0" cy="596.4" r="1.45" fill="#edb120"/><circle cx="553.7" cy="581.5" r="1.45" fill="#edb120"/><circle cx="556.4" cy="585.3" r="1.45" fill="#edb120"/><circle cx="559.0" cy="588.4" r="1.45" fill="#edb120"/><circle cx="561.7" cy="607.4" r="1.45" fill="#edb120"/><circle cx="564.4" cy="584.4" r="1.45" fill="#edb120"/><circle cx="567.1" cy="616.3" r="1.45" fill="#edb120"/><circle cx="569.7" cy="576.3" r="1.45" fill="#edb120"/><circle cx="572.4" cy="617.6" r="1.45" fill="#edb120"/><circle cx="575.1" cy="577.3" r="1.45" fill="#edb120"/><circle cx="577.8" cy="605.3" r="1.45" fill="#edb120"/><circle cx="580.4" cy="592.2" r="1.45" fill="#edb120"/><circle cx="583.1" cy="573.3" r="1.45" fill="#edb120"/><circle cx="585.8" cy="597.5" r="1.45" fill="#edb120"/><circle cx="588.4" cy="573.1" r="1.45" fill="#edb120"/><circle cx="591.1" cy="572.9" r="1.45" fill="#edb120"/><circle cx="593.8" cy="603.5" r="1.45" fill="#edb120"/><circle cx="596.5" cy="573.1" r="1.45" fill="#edb120"/><circle cx="599.1" cy="586.2" r="1.45" fill="#edb120"/><circle cx="601.8" cy="604.5" r="1.45" fill="#edb120"/><circle cx="604.5" cy="614.6" r="1.45" fill="#edb120"/><circle cx="607.1" cy="573.5" r="1.45" fill="#edb120"/><circle cx="609.8" cy="595.3" r="1.45" fill="#edb120"/><circle cx="612.5" cy="576.2" r="1.45" fill="#edb120"/><circle cx="615.2" cy="607.5" r="1.45" fill="#edb120"/><circle cx="617.8" cy="580.3" r="1.45" fill="#edb120"/><circle cx="620.5" cy="576.2" r="1.45" fill="#edb120"/><circle cx="623.2" cy="571.4" r="1.45" fill="#edb120"/><circle cx="625.8" cy="610.5" r="1.45" fill="#edb120"/><circle cx="628.5" cy="580.3" r="1.45" fill="#edb120"/><circle cx="631.2" cy="565.8" r="1.45" fill="#edb120"/><circle cx="633.9" cy="566.1" r="1.45" fill="#edb120"/><circle cx="636.5" cy="574.3" r="1.45" fill="#edb120"/><circle cx="639.2" cy="565.2" r="1.45" fill="#edb120"/><circle cx="641.9" cy="575.3" r="1.45" fill="#edb120"/><circle cx="644.6" cy="569.1" r="1.45" fill="#edb120"/><circle cx="647.2" cy="562.2" r="1.45" fill="#edb120"/><circle cx="649.9" cy="581.5" r="1.45" fill="#edb120"/><circle cx="652.6" cy="561.2" r="1.45" fill="#edb120"/><circle cx="655.2" cy="564.6" r="1.45" fill="#edb120"/><circle cx="657.9" cy="568.4" r="1.45" fill="#edb120"/><circle cx="660.6" cy="559.2" r="1.45" fill="#edb120"/><circle cx="663.3" cy="587.6" r="1.45" fill="#edb120"/><circle cx="665.9" cy="559.2" r="1.45" fill="#edb120"/><circle cx="668.6" cy="561.2" r="1.45" fill="#edb120"/><circle cx="671.3" cy="561.6" r="1.45" fill="#edb120"/><circle cx="673.9" cy="574.3" r="1.45" fill="#edb120"/><circle cx="676.6" cy="564.6" r="1.45" fill="#edb120"/><circle cx="679.3" cy="561.2" r="1.45" fill="#edb120"/><circle cx="682.0" cy="561.2" r="1.45" fill="#edb120"/><circle cx="684.6" cy="562.2" r="1.45" fill="#edb120"/><circle cx="687.3" cy="565.2" r="1.45" fill="#edb120"/><circle cx="690.0" cy="567.5" r="1.45" fill="#edb120"/><circle cx="692.6" cy="565.4" r="1.45" fill="#edb120"/><circle cx="695.3" cy="565.2" r="1.45" fill="#edb120"/><circle cx="698.0" cy="566.4" r="1.45" fill="#edb120"/><circle cx="700.7" cy="566.4" r="1.45" fill="#edb120"/><circle cx="703.3" cy="566.1" r="1.45" fill="#edb120"/><circle cx="706.0" cy="568.4" r="1.45" fill="#edb120"/><circle cx="708.7" cy="569.3" r="1.45" fill="#edb120"/><circle cx="711.4" cy="568.2" r="1.45" fill="#edb120"/><circle cx="714.0" cy="566.5" r="1.45" fill="#edb120"/><circle cx="716.7" cy="566.5" r="1.45" fill="#edb120"/><circle cx="719.4" cy="571.4" r="1.45" fill="#edb120"/><circle cx="722.0" cy="569.3" r="1.45" fill="#edb120"/><circle cx="724.7" cy="569.3" r="1.45" fill="#edb120"/><circle cx="727.4" cy="566.5" r="1.45" fill="#edb120"/><circle cx="730.1" cy="567.5" r="1.45" fill="#edb120"/><circle cx="732.7" cy="566.5" r="1.45" fill="#edb120"/><circle cx="735.4" cy="571.4" r="1.45" fill="#edb120"/><circle cx="738.1" cy="571.4" r="1.45" fill="#edb120"/><circle cx="740.7" cy="564.2" r="1.45" fill="#edb120"/><circle cx="743.4" cy="566.5" r="1.45" fill="#edb120"/><circle cx="746.1" cy="564.2" r="1.45" fill="#edb120"/><circle cx="748.8" cy="561.4" r="1.45" fill="#edb120"/><circle cx="751.4" cy="559.3" r="1.45" fill="#edb120"/><circle cx="754.1" cy="557.6" r="1.45" fill="#edb120"/><circle cx="756.8" cy="557.3" r="1.45" fill="#edb120"/><circle cx="759.4" cy="555.5" r="1.45" fill="#edb120"/><circle cx="762.1" cy="556.4" r="1.45" fill="#edb120"/><circle cx="764.8" cy="554.3" r="1.45" fill="#edb120"/><circle cx="767.5" cy="555.5" r="1.45" fill="#edb120"/><circle cx="770.1" cy="554.3" r="1.45" fill="#edb120"/><circle cx="772.8" cy="555.5" r="1.45" fill="#edb120"/><circle cx="775.5" cy="552.3" r="1.45" fill="#edb120"/><circle cx="778.2" cy="556.4" r="1.45" fill="#edb120"/><circle cx="780.8" cy="552.3" r="1.45" fill="#edb120"/><circle cx="783.5" cy="552.3" r="1.45" fill="#edb120"/><circle cx="786.2" cy="554.3" r="1.45" fill="#edb120"/><circle cx="788.8" cy="551.2" r="1.45" fill="#edb120"/><circle cx="791.5" cy="553.3" r="1.45" fill="#edb120"/><circle cx="794.2" cy="551.5" r="1.45" fill="#edb120"/><circle cx="796.9" cy="550.5" r="1.45" fill="#edb120"/><circle cx="799.5" cy="550.5" r="1.45" fill="#edb120"/><circle cx="802.2" cy="552.3" r="1.45" fill="#edb120"/><circle cx="804.9" cy="551.5" r="1.45" fill="#edb120"/><circle cx="807.5" cy="550.5" r="1.45" fill="#edb120"/><circle cx="810.2" cy="554.3" r="1.45" fill="#edb120"/><circle cx="812.9" cy="551.2" r="1.45" fill="#edb120"/><circle cx="815.6" cy="552.3" r="1.45" fill="#edb120"/><circle cx="818.2" cy="551.5" r="1.45" fill="#edb120"/><circle cx="820.9" cy="552.3" r="1.45" fill="#edb120"/><circle cx="823.6" cy="551.5" r="1.45" fill="#edb120"/><circle cx="826.2" cy="550.2" r="1.45" fill="#edb120"/><circle cx="828.9" cy="551.5" r="1.45" fill="#edb120"/><circle cx="831.6" cy="551.5" r="1.45" fill="#edb120"/><circle cx="834.3" cy="549.4" r="1.45" fill="#edb120"/><circle cx="836.9" cy="549.4" r="1.45" fill="#edb120"/><circle cx="839.6" cy="549.4" r="1.45" fill="#edb120"/><circle cx="842.3" cy="553.3" r="1.45" fill="#edb120"/><circle cx="845.0" cy="551.5" r="1.45" fill="#edb120"/><circle cx="847.6" cy="549.4" r="1.45" fill="#edb120"/><circle cx="850.3" cy="551.5" r="1.45" fill="#edb120"/><circle cx="853.0" cy="550.8" r="1.45" fill="#edb120"/><circle cx="855.6" cy="550.5" r="1.45" fill="#edb120"/><circle cx="858.3" cy="549.4" r="1.45" fill="#edb120"/><circle cx="861.0" cy="551.5" r="1.45" fill="#edb120"/><circle cx="863.7" cy="551.5" r="1.45" fill="#edb120"/><circle cx="866.3" cy="549.4" r="1.45" fill="#edb120"/><circle cx="869.0" cy="549.4" r="1.45" fill="#edb120"/><line x1="329.80" y1="598.50" x2="339.20" y2="598.50" stroke="#d1058a" stroke-width="1.35"/><line x1="331.18" y1="595.18" x2="337.82" y2="601.82" stroke="#d1058a" stroke-width="1.35"/><line x1="334.50" y1="593.80" x2="334.50" y2="603.20" stroke="#d1058a" stroke-width="1.35"/><line x1="337.82" y1="595.18" x2="331.18" y2="601.82" stroke="#d1058a" stroke-width="1.35"/><line x1="596.80" y1="475.40" x2="606.20" y2="475.40" stroke="#d1058a" stroke-width="1.35"/><line x1="598.18" y1="472.08" x2="604.82" y2="478.72" stroke="#d1058a" stroke-width="1.35"/><line x1="601.50" y1="470.70" x2="601.50" y2="480.10" stroke="#d1058a" stroke-width="1.35"/><line x1="604.82" y1="472.08" x2="598.18" y2="478.72" stroke="#d1058a" stroke-width="1.35"/><line x1="864.80" y1="124.40" x2="874.20" y2="124.40" stroke="#d1058a" stroke-width="1.35"/><line x1="866.18" y1="121.08" x2="872.82" y2="127.72" stroke="#d1058a" stroke-width="1.35"/><line x1="869.50" y1="119.70" x2="869.50" y2="129.10" stroke="#d1058a" stroke-width="1.35"/><line x1="872.82" y1="121.08" x2="866.18" y2="127.72" stroke="#d1058a" stroke-width="1.35"/><g font-family="Liberation Sans, sans-serif" font-size="12" fill="#262626"><text x="63" y="123.3" text-anchor="end">500</text><text x="63" y="230.5" text-anchor="end">400</text><text x="63" y="337.6" text-anchor="end">300</text><text x="63" y="444.8" text-anchor="end">200</text><text x="63" y="552.0" text-anchor="end">100</text><text x="63" y="659.1" text-anchor="end">0</text><text x="63" y="766.3" text-anchor="end">-100</text><text x="67.5" y="777" text-anchor="middle">0</text><text x="201.2" y="777" text-anchor="middle">50</text><text x="334.8" y="777" text-anchor="middle">100</text><text x="468.5" y="777" text-anchor="middle">150</text><text x="602.2" y="777" text-anchor="middle">200</text><text x="735.8" y="777" text-anchor="middle">250</text><text x="869.5" y="777" text-anchor="middle">300</text><text x="469.5" y="792" text-anchor="middle" font-size="13.2">Episode Number</text><text transform="translate(33,441.7) rotate(-90)" text-anchor="middle" font-size="13.2">Episode Reward</text><text x="470.2" y="113.5" text-anchor="middle" font-size="13.2" font-weight="bold">Episode reward for CartPoleContinuousAction with rlPPOAgent</text></g><g fill="none" stroke="#6a6a6a" stroke-width="1.15" stroke-linejoin="round" stroke-linecap="round"><path d="M778.42,110.84 L774.32,110.84 774.32,114.50 786.47,114.50 786.47,110.84 779.88,110.84" stroke-width="1.0" stroke="#8c8c8c"/><path d="M789.95,111.82 L789.95,115.96 786.29,115.96 Z" fill="#6a6a6a" stroke="none"/><path d="M776.77,111.82 C776.77,107.98 778.42,104.87 781.79,104.50 L782.26,102.49 786.65,105.60 782.81,108.71 782.30,107.07 C780.43,107.43 779.15,109.08 778.97,111.82 Q777.87,113.11 776.77,111.82 Z" stroke-width="1.05" fill="#f5f5f5"/><path d="M799.47,116.58 L794.89,108.90 Q793.98,107.61 795.26,107.18 Q796.35,106.88 798.18,109.26 L797.53,103.95 Q797.45,102.49 798.73,102.31 Q799.83,102.20 800.38,103.41 L800.56,103.04 Q800.93,101.32 802.39,101.32 Q803.86,101.32 804.22,102.86 L804.41,103.22 Q804.96,101.94 806.05,102.20 Q807.15,102.49 807.34,104.32 L807.52,104.87 Q808.25,103.95 809.17,104.50 Q809.90,105.05 809.53,107.61 L808.80,112.37 807.34,116.58 Z" stroke-width="1.2"/><path d="M800.56,103.04 L801.11,107.61 M804.41,103.22 L804.22,107.25 M807.41,104.87 L806.60,107.80" stroke-width="1.0"/><circle cx="820.4" cy="107.7" r="6.1"/><path d="M816.9 107.7H823.9M820.4 104.2V111.2M824.9 112.2L829.9 116.6"/><circle cx="840.5" cy="107.6" r="6.1"/><path d="M837 107.6H844M845 112.1L850 116.6"/><path d="M854.12,109.97 L862.01,101.59 869.79,109.97"/><path d="M856.32,108.47 L856.32,116.26 859.81,116.26 859.81,111.47 864.00,111.47 864.00,116.26 867.59,116.26 867.59,108.47"/><path d="M865.10,101.99 L867.99,101.99 867.99,104.88 Z" fill="#6a6a6a" stroke="none"/></g></svg>
<!--RIGHT_START--><!-- progress -->
<div class="abs" style="left:911px;top:97px;width:160px;height:15px;background:#fff"></div>
<div class="abs" style="left:911px;top:97px;width:9px;height:15px;background:#2588d9"></div>
<div class="abs" style="left:1081px;top:92px;width:110px;height:25px;border:1px solid #c8c8c8;border-radius:4px;background:#f5f5f5"></div>
<div class="t" style="left:1081px;top:97px;width:110px;text-align:center;color:#a6a6a6;font-size:12px" id="bstop">Training stopped</div>
<div class="t" style="left:911px;top:128px">Episode number:</div><div class="t" style="left:1041px;top:128px">300/5000</div>
<div class="t" style="left:911px;top:153px">Start time:</div><div class="t" style="left:1041px;top:153px">23-Oct-2024 19:41:44</div>
<div class="t" style="left:911px;top:178px">Duration:</div><div class="t" style="left:1041px;top:178px">00:03:55</div>
<div class="t" style="left:911px;top:203px">Final result:</div>
<div class="t" style="left:1041px;top:202px;line-height:15px;white-space:normal;width:150px">Training finished after all<br>agents reached stop<br>training criteria.</div>
<!-- Training Information -->
<div class="panel" style="top:258px;height:295px"><div class="ptitle"></div></div>
<div class="t b" style="left:915px;top:261px">Training Information</div>
<div class="abs" style="left:922px;top:289px;width:258px;height:95px;border:1px solid #6a6a6a;background:#fff"></div>
<div class="abs" style="left:923px;top:290px;width:256px;height:27px;background:#f5f5f5;border-bottom:1px solid #6a6a6a"></div>
<div class="abs" style="left:923px;top:317px;width:256px;height:25px;background:#2588d9"></div>
<div class="abs" style="left:1051px;top:290px;width:1px;height:52px;background:#6a6a6a"></div>
<div class="t b" style="left:926px;top:297px">Agent</div><div class="t b" style="left:1055px;top:297px">Status</div>
<div class="t" style="left:926px;top:320px;color:#fff">rlPPOAgent</div><div class="t" style="left:1055px;top:320px;color:#fff">Training finished</div>
<div class="t b" style="left:922px;top:395px" id="epinfo">Episode Information (rlPPOAgent):</div>
<div class="t" style="left:922px;top:420px">Episode reward:</div><div class="t" style="left:1042px;top:420px">494.1272</div>
<div class="t" style="left:922px;top:445px">Average reward:</div><div class="t" style="left:1042px;top:445px">493.4821</div>
<div class="t" style="left:922px;top:470px">Episode Q0:</div><div class="t" style="left:1042px;top:470px">98.6206</div>
<div class="t" style="left:922px;top:495px">Evaluation statistic:</div><div class="t" style="left:1042px;top:495px">495.5037</div>
<div class="abs" style="left:1070px;top:519px;width:110px;height:23px;border:1px solid #7a7a7a;border-radius:4px;background:#f5f5f5"></div>
<div class="t" style="left:1070px;top:523px;width:110px;text-align:center" id="bmore">More Details...</div>
<!-- Plot Options -->
<div class="panel" style="top:563px;height:118px"><div class="ptitle"></div></div>
<div class="t b" style="left:915px;top:566px">Plot Options</div>
<div class="cb" style="top:595px"></div><svg class="abs" style="left:922px;top:595px" width="14" height="14" viewBox="0 0 14 14"><path d="M2.1 6.9 L5.5 10.2 L11.5 3.1" fill="none" stroke="#1a1a1a" stroke-width="2.1"/></svg>
<div class="t" style="left:939px;top:595px">Show EpisodeQ0</div>
<div class="cb" style="top:622px"></div><svg class="abs" style="left:922px;top:622px" width="14" height="14" viewBox="0 0 14 14"><path d="M2.1 6.9 L5.5 10.2 L11.5 3.1" fill="none" stroke="#1a1a1a" stroke-width="2.1"/></svg>
<div class="t" style="left:939px;top:622px">Show evaluation statistic</div>
<div class="cb" style="top:652px"></div>
<div class="t" style="left:939px;top:651px">Show last N episodes</div>
<div class="abs" style="left:1066px;top:647px;width:114px;height:23px;border:1px solid #cfcfcf;background:#f5f5f5"></div>
<div class="t" style="left:1066px;top:652px;width:109px;text-align:right;color:#a6a6a6">5000</div>
<!-- Legend -->
<div class="panel" style="top:691px;height:102px"></div>
<div class="abs" style="left:917px;top:697px;width:268px;height:90px;background:#fff"></div>
<svg class="abs" style="left:917px;top:697px;will-change:transform" width="268" height="90" viewBox="917 697 268 90">
<g font-family="Liberation Sans, sans-serif" font-size="10.8" fill="#1a1a1a">
<line x1="973.5" y1="704.5" x2="1013.5" y2="704.5" stroke="#3bb9ea" stroke-width="1"/><circle cx="993.5" cy="704.5" r="1.4" fill="#2fb4e9"/><text x="1017" y="708">Episode reward</text>
<line x1="973.5" y1="723.5" x2="1013.5" y2="723.5" stroke="#1269bd" stroke-width="1"/><circle cx="993.5" cy="723.5" r="1.4" fill="#1269bd"/><text x="1017" y="727">Average reward</text>
<line x1="973.5" y1="742.5" x2="1013.5" y2="742.5" stroke="#edb120" stroke-width="1"/><circle cx="993.5" cy="742.5" r="1.4" fill="#edb120"/><text x="1017" y="746">Episode Q0</text>
<text x="1017" y="775">Evaluation statistic</text>
<line x1="988.70" y1="770.70" x2="998.30" y2="770.70" stroke="#d1058a" stroke-width="0.75"/><line x1="990.11" y1="767.31" x2="996.89" y2="774.09" stroke="#d1058a" stroke-width="0.75"/><line x1="993.50" y1="765.90" x2="993.50" y2="775.50" stroke="#d1058a" stroke-width="0.75"/><line x1="996.89" y1="767.31" x2="990.11" y2="774.09" stroke="#d1058a" stroke-width="0.75"/>
</g></svg>
<!--RIGHT_END-->
<!-- status bar -->
<div class="abs" style="left:0;top:815px;width:1202px;height:24px;background:#e6e6e6;border-top:1px solid #8c8c8c;border-bottom:1px solid #a8a8a8"></div>
<svg class="abs" style="left:1185px;top:820px" width="12" height="14" viewBox="0 0 12 14"><polygon points="1,1 8,7 1,13" fill="#8c8c8c"/><rect x="8.6" y="1" width="1.6" height="12" fill="#8c8c8c"/></svg>
<!-- frame borders -->
<div class="abs" style="left:0;top:1px;width:1px;height:838px;background:#b0b0b0"></div>
<div class="abs" style="left:1201px;top:1px;width:1px;height:838px;background:#b0b0b0"></div>
</body></html>
